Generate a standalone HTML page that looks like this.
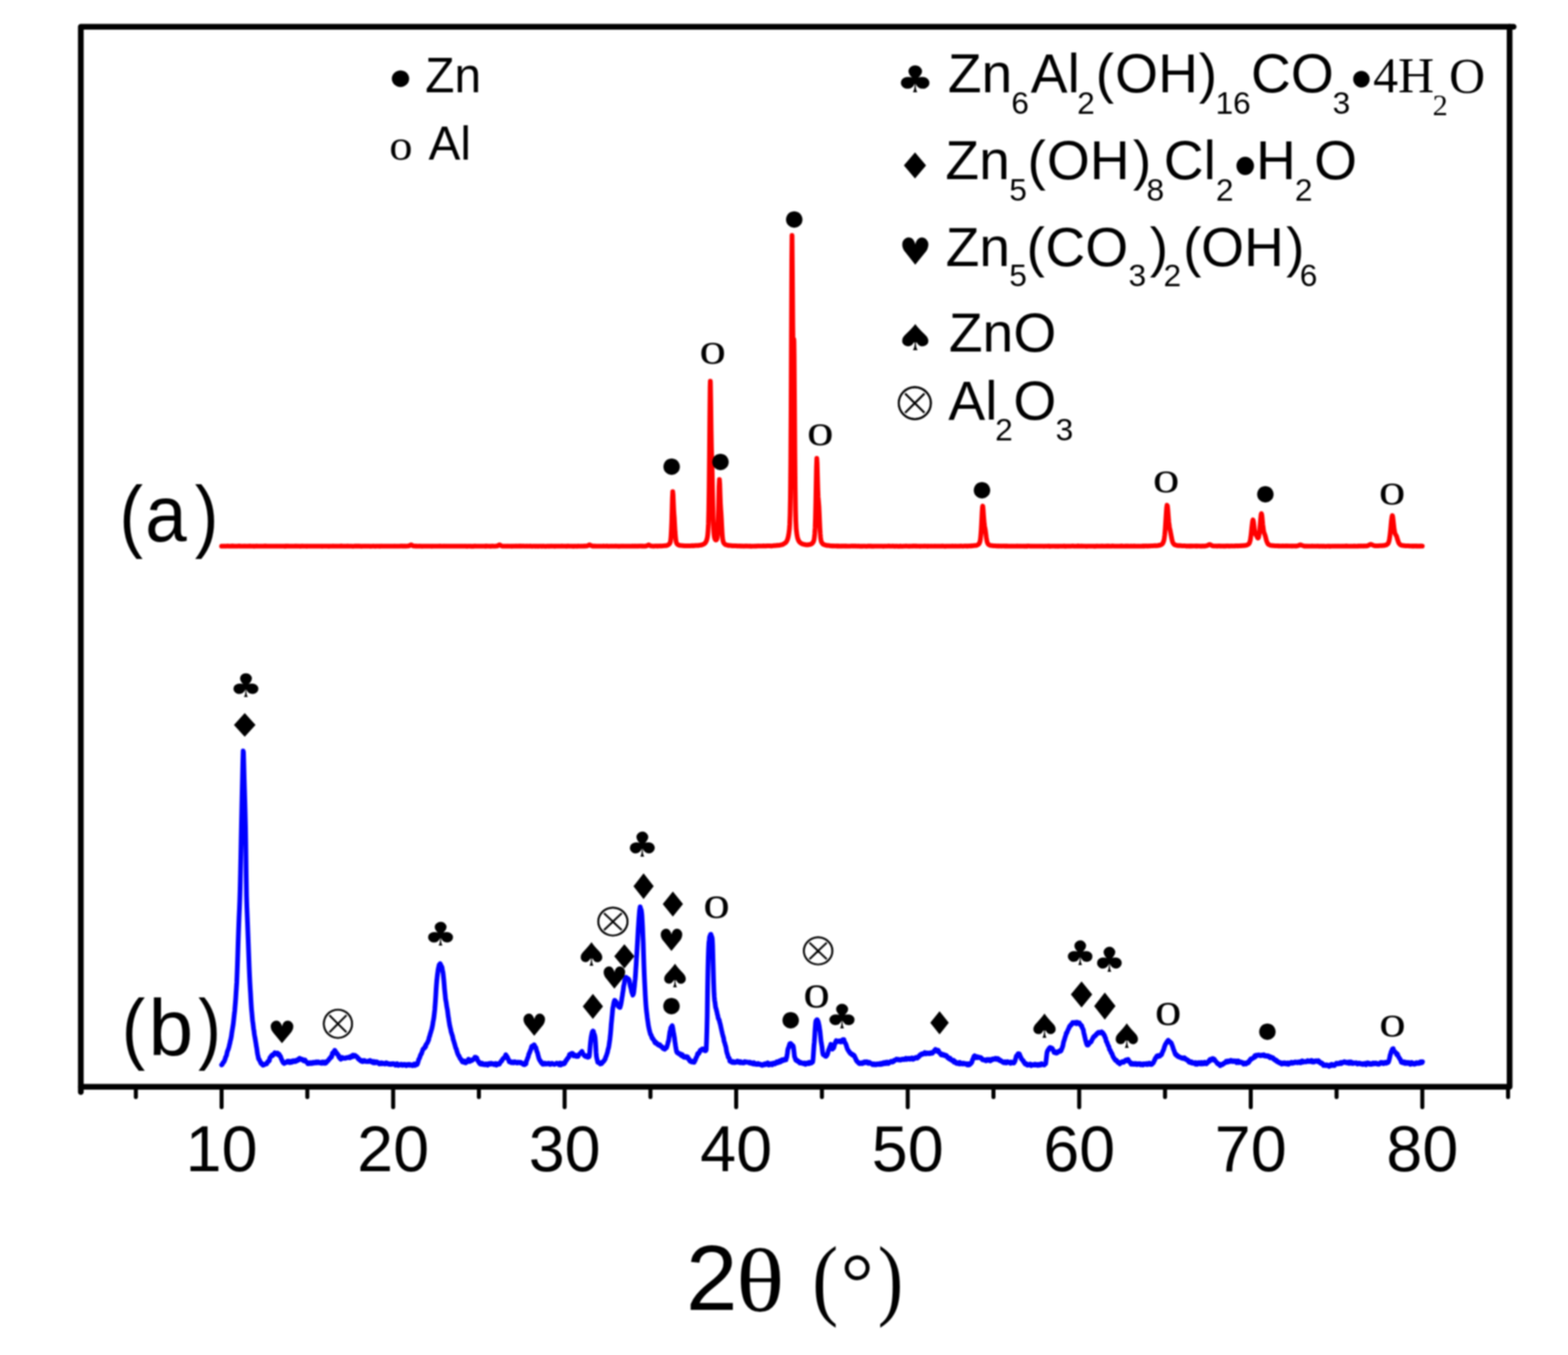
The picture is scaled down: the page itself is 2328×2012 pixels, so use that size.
<!DOCTYPE html><html><head><meta charset="utf-8"><title>XRD</title><style>html,body{margin:0;padding:0;background:#fff;}svg{display:block;filter:blur(1.3px);}</style></head><body><svg width="2328" height="2012" viewBox="0 0 2328 2012">
<path d="M120.0,1613.7 V39.8 H2241.3 V1613.7 Z" fill="none" stroke="#000" stroke-width="8.5" stroke-linejoin="round"/>
<path d="M2241.3,39.8 H2247.3 M120.0,1613.7 V1621.5" stroke="#000" stroke-width="8.5" stroke-linecap="round" fill="none"/>
<path d="M201.7,1613.7 V1629 M329.0,1613.7 V1644 M456.3,1613.7 V1629 M583.7,1613.7 V1644 M711.0,1613.7 V1629 M838.3,1613.7 V1644 M965.7,1613.7 V1629 M1093.0,1613.7 V1644 M1220.3,1613.7 V1629 M1347.7,1613.7 V1644 M1475.0,1613.7 V1629 M1602.3,1613.7 V1644 M1729.7,1613.7 V1629 M1857.0,1613.7 V1644 M1984.4,1613.7 V1629 M2111.7,1613.7 V1644 M2239.0,1613.7 V1629" stroke="#000" stroke-width="6" fill="none" stroke-linecap="round"/>
<text x="329.0" y="1739" text-anchor="middle" style="font-family:'Liberation Sans', sans-serif;font-size:96px">10</text>
<text x="583.7" y="1739" text-anchor="middle" style="font-family:'Liberation Sans', sans-serif;font-size:96px">20</text>
<text x="838.3" y="1739" text-anchor="middle" style="font-family:'Liberation Sans', sans-serif;font-size:96px">30</text>
<text x="1093.0" y="1739" text-anchor="middle" style="font-family:'Liberation Sans', sans-serif;font-size:96px">40</text>
<text x="1347.7" y="1739" text-anchor="middle" style="font-family:'Liberation Sans', sans-serif;font-size:96px">50</text>
<text x="1602.3" y="1739" text-anchor="middle" style="font-family:'Liberation Sans', sans-serif;font-size:96px">60</text>
<text x="1857.0" y="1739" text-anchor="middle" style="font-family:'Liberation Sans', sans-serif;font-size:96px">70</text>
<text x="2111.7" y="1739" text-anchor="middle" style="font-family:'Liberation Sans', sans-serif;font-size:96px">80</text>
<text x="1018.38" y="1945.00" style="font-family:'Liberation Sans', sans-serif;font-size:137.5px">2</text>
<text transform="translate(1092.91 1946.79) scale(1.1128 1)" style="font-family:'Liberation Serif', serif;font-size:133.99px" fill="#000">θ</text>
<text transform="translate(1205.94 1942.52) scale(0.8615 1)" style="font-family:'Liberation Serif', serif;font-size:133.78px" fill="#000">(</text>
<text transform="translate(1248.25 1945.29) scale(1.0109 1)" style="font-family:'Liberation Serif', serif;font-size:121.03px" fill="#000">°</text>
<text transform="translate(1303.25 1942.52) scale(0.8470 1)" style="font-family:'Liberation Serif', serif;font-size:133.78px" fill="#000">)</text>
<text transform="translate(177.17 805.06) scale(0.8912 1)" style="font-family:'Liberation Sans', sans-serif;font-size:118.07px" fill="#000">(</text>
<text transform="translate(215.59 804.15) scale(0.9411 1)" style="font-family:'Liberation Sans', sans-serif;font-size:117.92px" fill="#000">a</text>
<text transform="translate(289.18 805.06) scale(0.8944 1)" style="font-family:'Liberation Sans', sans-serif;font-size:118.07px" fill="#000">)</text>
<text transform="translate(180.82 1566.02) scale(0.8873 1)" style="font-family:'Liberation Sans', sans-serif;font-size:117.75px" fill="#000">(</text>
<text transform="translate(220.62 1567.14) scale(0.9992 1)" style="font-family:'Liberation Sans', sans-serif;font-size:119.29px" fill="#000">b</text>
<text transform="translate(294.21 1566.02) scale(0.8616 1)" style="font-family:'Liberation Sans', sans-serif;font-size:117.75px" fill="#000">)</text>
<polyline points="329.0,811.0 329.5,811.1 330.0,811.0 330.5,811.1 331.0,811.0 331.5,811.0 332.1,811.1 332.6,811.1 333.1,811.0 333.6,811.1 334.1,811.1 334.6,811.1 335.1,811.1 335.6,811.0 336.1,811.0 336.6,810.9 337.1,810.9 337.7,810.8 338.2,810.8 338.7,810.9 339.2,810.9 339.7,810.9 340.2,811.0 340.7,810.9 341.2,810.9 341.7,811.0 342.2,811.1 342.8,811.0 343.3,810.9 343.8,810.8 344.3,810.9 344.8,810.8 345.3,810.8 345.8,811.0 346.3,810.8 346.8,811.0 347.3,811.0 347.8,811.0 348.4,811.0 348.9,811.1 349.4,811.1 349.9,811.0 350.4,811.0 350.9,810.9 351.4,810.9 351.9,810.9 352.4,810.9 352.9,811.0 353.4,810.9 354.0,810.8 354.5,810.8 355.0,810.8 355.5,811.0 356.0,810.8 356.5,810.9 357.0,810.9 357.5,811.1 358.0,810.9 358.5,811.0 359.1,811.0 359.6,811.0 360.1,810.9 360.6,811.0 361.1,810.9 361.6,811.0 362.1,811.0 362.6,811.1 363.1,810.9 363.6,811.1 364.1,811.1 364.7,811.0 365.2,811.0 365.7,811.0 366.2,811.1 366.7,811.1 367.2,811.0 367.7,811.0 368.2,811.0 368.7,811.0 369.2,810.9 369.7,811.1 370.3,810.9 370.8,810.7 371.3,810.8 371.8,810.9 372.3,811.0 372.8,811.0 373.3,811.0 373.8,811.0 374.3,811.1 374.8,811.0 375.3,811.0 375.9,811.1 376.4,811.1 376.9,811.0 377.4,811.2 377.9,811.1 378.4,811.0 378.9,810.9 379.4,811.0 379.9,810.9 380.4,810.9 381.0,810.8 381.5,810.9 382.0,811.0 382.5,811.0 383.0,810.9 383.5,811.0 384.0,811.0 384.5,811.1 385.0,811.1 385.5,811.1 386.0,811.0 386.6,811.0 387.1,810.9 387.6,811.0 388.1,811.1 388.6,811.1 389.1,811.0 389.6,811.0 390.1,810.9 390.6,810.9 391.1,810.9 391.6,810.9 392.2,810.9 392.7,810.8 393.2,810.9 393.7,811.0 394.2,810.9 394.7,810.8 395.2,810.9 395.7,811.0 396.2,811.0 396.7,810.9 397.3,810.9 397.8,811.0 398.3,810.9 398.8,811.0 399.3,811.0 399.8,811.1 400.3,811.0 400.8,811.0 401.3,810.9 401.8,810.9 402.3,810.9 402.9,811.0 403.4,811.0 403.9,811.0 404.4,811.0 404.9,811.1 405.4,811.0 405.9,811.0 406.4,811.0 406.9,811.0 407.4,811.1 407.9,811.0 408.5,811.0 409.0,811.0 409.5,810.9 410.0,811.1 410.5,811.1 411.0,811.0 411.5,811.0 412.0,811.0 412.5,811.0 413.0,811.0 413.6,811.0 414.1,810.9 414.6,811.0 415.1,811.0 415.6,811.1 416.1,810.9 416.6,811.0 417.1,810.9 417.6,811.0 418.1,811.1 418.6,811.0 419.2,811.0 419.7,810.9 420.2,811.0 420.7,810.9 421.2,811.0 421.7,811.0 422.2,811.0 422.7,811.2 423.2,811.1 423.7,811.2 424.2,810.9 424.8,810.8 425.3,811.0 425.8,811.0 426.3,811.0 426.8,811.0 427.3,810.8 427.8,810.9 428.3,810.9 428.8,810.9 429.3,811.0 429.8,811.0 430.4,811.0 430.9,811.0 431.4,810.9 431.9,811.0 432.4,811.0 432.9,811.1 433.4,811.0 433.9,811.1 434.4,811.0 434.9,811.1 435.5,811.0 436.0,811.1 436.5,811.1 437.0,811.1 437.5,811.1 438.0,811.0 438.5,810.9 439.0,810.8 439.5,811.0 440.0,810.9 440.5,810.9 441.1,811.0 441.6,811.1 442.1,810.9 442.6,811.0 443.1,811.0 443.6,811.0 444.1,810.9 444.6,810.9 445.1,811.0 445.6,811.1 446.1,811.2 446.7,811.0 447.2,811.0 447.7,811.0 448.2,810.9 448.7,810.8 449.2,811.0 449.7,811.0 450.2,811.0 450.7,811.1 451.2,811.0 451.8,811.0 452.3,811.0 452.8,811.0 453.3,811.0 453.8,811.0 454.3,811.0 454.8,811.0 455.3,811.2 455.8,811.1 456.3,811.1 456.8,811.1 457.4,811.0 457.9,811.1 458.4,811.0 458.9,811.1 459.4,811.0 459.9,810.9 460.4,811.0 460.9,811.1 461.4,811.1 461.9,811.1 462.4,811.0 463.0,810.9 463.5,811.0 464.0,811.0 464.5,810.9 465.0,811.0 465.5,811.0 466.0,810.9 466.5,811.0 467.0,810.9 467.5,810.9 468.0,811.0 468.6,810.9 469.1,810.9 469.6,810.9 470.1,811.0 470.6,810.9 471.1,811.0 471.6,810.9 472.1,810.9 472.6,811.0 473.1,811.1 473.7,810.9 474.2,811.0 474.7,811.1 475.2,811.0 475.7,811.1 476.2,811.0 476.7,811.0 477.2,811.1 477.7,811.1 478.2,811.2 478.7,811.0 479.3,810.9 479.8,811.0 480.3,810.9 480.8,810.9 481.3,810.9 481.8,811.0 482.3,811.1 482.8,811.1 483.3,811.0 483.8,811.0 484.3,811.0 484.9,811.0 485.4,811.0 485.9,811.1 486.4,811.0 486.9,811.1 487.4,811.1 487.9,811.2 488.4,811.2 488.9,811.0 489.4,810.9 490.0,811.0 490.5,811.0 491.0,811.0 491.5,811.0 492.0,811.0 492.5,810.9 493.0,810.9 493.5,810.9 494.0,811.0 494.5,810.8 495.0,811.0 495.6,811.0 496.1,810.9 496.6,810.9 497.1,810.9 497.6,811.0 498.1,811.0 498.6,811.1 499.1,811.1 499.6,810.9 500.1,810.9 500.6,811.0 501.2,811.0 501.7,811.0 502.2,811.1 502.7,811.1 503.2,811.1 503.7,811.1 504.2,811.0 504.7,811.0 505.2,810.9 505.7,810.8 506.3,810.9 506.8,810.9 507.3,810.8 507.8,810.9 508.3,811.0 508.8,811.0 509.3,811.1 509.8,811.1 510.3,811.1 510.8,811.0 511.3,810.9 511.9,811.0 512.4,811.0 512.9,811.1 513.4,811.1 513.9,811.1 514.4,811.0 514.9,811.1 515.4,811.0 515.9,810.8 516.4,810.9 516.9,811.1 517.5,810.9 518.0,811.0 518.5,811.0 519.0,810.9 519.5,811.0 520.0,811.0 520.5,810.9 521.0,811.0 521.5,811.0 522.0,811.1 522.5,811.0 523.1,811.1 523.6,811.2 524.1,811.3 524.6,811.0 525.1,811.0 525.6,810.9 526.1,811.0 526.6,811.0 527.1,810.9 527.6,810.8 528.2,810.9 528.7,811.0 529.2,810.9 529.7,811.0 530.2,810.8 530.7,810.8 531.2,810.9 531.7,811.0 532.2,811.1 532.7,811.0 533.2,810.8 533.8,810.9 534.3,810.9 534.8,811.0 535.3,811.0 535.8,811.1 536.3,811.2 536.8,811.2 537.3,811.0 537.8,811.0 538.3,811.1 538.8,811.0 539.4,811.1 539.9,811.0 540.4,811.0 540.9,811.1 541.4,811.1 541.9,811.1 542.4,811.1 542.9,810.9 543.4,810.9 543.9,811.0 544.5,811.0 545.0,810.9 545.5,811.0 546.0,811.0 546.5,811.1 547.0,811.1 547.5,811.0 548.0,811.0 548.5,811.0 549.0,811.0 549.5,811.1 550.1,811.2 550.6,811.2 551.1,811.1 551.6,811.0 552.1,811.1 552.6,811.0 553.1,811.0 553.6,810.9 554.1,810.9 554.6,811.1 555.1,811.0 555.7,810.9 556.2,810.9 556.7,811.1 557.2,811.2 557.7,811.1 558.2,811.0 558.7,811.0 559.2,810.9 559.7,811.0 560.2,811.0 560.7,810.9 561.3,810.9 561.8,810.9 562.3,810.9 562.8,810.9 563.3,811.0 563.8,811.2 564.3,811.1 564.8,811.0 565.3,811.0 565.8,811.0 566.4,810.9 566.9,811.1 567.4,811.0 567.9,810.9 568.4,810.9 568.9,810.9 569.4,810.9 569.9,811.0 570.4,811.1 570.9,811.1 571.4,811.1 572.0,810.9 572.5,811.0 573.0,810.9 573.5,810.9 574.0,811.0 574.5,811.0 575.0,811.0 575.5,810.9 576.0,811.0 576.5,811.0 577.0,810.9 577.6,810.9 578.1,811.0 578.6,810.9 579.1,810.9 579.6,810.9 580.1,811.0 580.6,811.1 581.1,811.1 581.6,811.1 582.1,811.1 582.7,811.0 583.2,810.9 583.7,811.0 584.2,811.0 584.7,810.9 585.2,811.0 585.7,811.1 586.2,810.9 586.7,810.9 587.2,810.9 587.7,810.9 588.3,811.0 588.8,810.9 589.3,810.9 589.8,811.0 590.3,811.0 590.8,811.0 591.3,811.0 591.8,811.0 592.3,810.9 592.8,811.0 593.3,811.0 593.9,810.9 594.4,810.9 594.9,810.8 595.4,810.7 595.9,810.8 596.4,810.8 596.9,811.0 597.4,810.9 597.9,810.8 598.4,810.8 599.0,811.0 599.5,811.0 600.0,810.9 600.5,810.9 601.0,810.8 601.5,810.9 602.0,810.9 602.5,811.0 603.0,811.1 603.5,811.0 604.0,810.9 604.6,810.8 605.1,810.7 605.6,810.7 606.1,810.7 606.6,810.7 607.1,810.6 607.6,810.3 608.1,810.2 608.6,810.0 609.1,809.6 609.6,809.3 610.2,808.9 610.4,808.9 610.7,808.9 611.2,809.3 611.7,809.6 612.2,809.9 612.7,810.3 613.2,810.4 613.7,810.7 614.2,810.7 614.7,810.8 615.2,810.8 615.8,810.9 616.3,810.7 616.8,810.9 617.3,810.9 617.8,810.9 618.3,810.8 618.8,810.9 619.3,811.0 619.8,811.0 620.3,811.0 620.9,811.0 621.4,811.1 621.9,811.0 622.4,810.9 622.9,810.8 623.4,811.0 623.9,810.9 624.4,811.0 624.9,811.0 625.4,810.9 625.9,811.0 626.5,811.2 627.0,811.1 627.5,810.9 628.0,810.9 628.5,811.0 629.0,811.0 629.5,810.9 630.0,811.0 630.5,811.0 631.0,811.0 631.5,811.0 632.1,810.9 632.6,811.0 633.1,811.0 633.6,811.0 634.1,811.0 634.6,811.0 635.1,811.0 635.6,811.0 636.1,811.1 636.6,811.1 637.2,811.1 637.7,811.0 638.2,810.9 638.7,811.0 639.2,811.0 639.7,811.0 640.2,810.9 640.7,811.0 641.2,811.2 641.7,811.1 642.2,811.1 642.8,811.1 643.3,811.0 643.8,811.0 644.3,810.9 644.8,810.9 645.3,811.0 645.8,811.0 646.3,811.0 646.8,810.9 647.3,811.0 647.8,810.9 648.4,811.0 648.9,811.0 649.4,811.0 649.9,811.1 650.4,811.1 650.9,810.9 651.4,810.9 651.9,811.0 652.4,810.9 652.9,810.8 653.4,810.9 654.0,810.9 654.5,811.0 655.0,811.0 655.5,811.0 656.0,811.0 656.5,811.1 657.0,811.1 657.5,811.1 658.0,811.0 658.5,811.1 659.1,811.0 659.6,811.1 660.1,810.9 660.6,811.0 661.1,811.0 661.6,810.9 662.1,811.1 662.6,811.1 663.1,811.0 663.6,811.0 664.1,811.1 664.7,811.1 665.2,811.1 665.7,811.0 666.2,811.1 666.7,811.1 667.2,811.0 667.7,811.0 668.2,810.9 668.7,811.0 669.2,810.9 669.7,811.0 670.3,811.0 670.8,810.9 671.3,811.0 671.8,811.0 672.3,810.9 672.8,811.0 673.3,811.0 673.8,811.0 674.3,810.9 674.8,810.9 675.4,810.9 675.9,810.9 676.4,811.0 676.9,811.0 677.4,811.0 677.9,810.9 678.4,811.0 678.9,811.0 679.4,810.9 679.9,811.0 680.4,811.1 681.0,811.0 681.5,810.9 682.0,811.0 682.5,810.9 683.0,811.1 683.5,811.0 684.0,810.9 684.5,811.0 685.0,811.1 685.5,811.1 686.0,811.1 686.6,811.0 687.1,811.0 687.6,811.0 688.1,811.1 688.6,811.1 689.1,811.1 689.6,811.0 690.1,811.1 690.6,811.1 691.1,811.1 691.7,811.0 692.2,811.0 692.7,811.2 693.2,811.1 693.7,811.2 694.2,811.0 694.7,811.0 695.2,810.9 695.7,810.9 696.2,810.9 696.7,810.9 697.3,811.0 697.8,811.0 698.3,811.0 698.8,811.0 699.3,811.2 699.8,811.1 700.3,811.1 700.8,811.2 701.3,811.2 701.8,811.1 702.3,811.1 702.9,811.2 703.4,811.0 703.9,810.9 704.4,811.0 704.9,810.8 705.4,810.8 705.9,811.0 706.4,811.0 706.9,811.0 707.4,811.1 707.9,810.9 708.5,811.0 709.0,810.9 709.5,810.9 710.0,810.9 710.5,811.0 711.0,810.9 711.5,810.9 712.0,811.0 712.5,811.1 713.0,811.1 713.6,811.0 714.1,810.9 714.6,810.9 715.1,810.9 715.6,810.9 716.1,811.0 716.6,811.1 717.1,811.0 717.6,811.0 718.1,811.0 718.6,811.0 719.2,811.0 719.7,811.1 720.2,811.0 720.7,811.2 721.2,810.9 721.7,810.8 722.2,810.8 722.7,810.8 723.2,810.9 723.7,811.1 724.2,811.0 724.8,811.1 725.3,811.0 725.8,811.0 726.3,810.9 726.8,811.1 727.3,811.1 727.8,811.0 728.3,811.2 728.8,811.1 729.3,811.1 729.9,811.0 730.4,810.9 730.9,810.8 731.4,810.9 731.9,811.0 732.4,811.0 732.9,811.0 733.4,811.0 733.9,810.9 734.4,811.0 734.9,811.0 735.5,810.9 736.0,810.9 736.5,810.9 737.0,810.8 737.5,810.8 738.0,810.8 738.5,810.7 739.0,810.4 739.5,809.9 740.0,809.8 740.5,809.4 741.1,809.1 741.6,809.0 742.1,809.1 742.6,809.5 743.1,809.7 743.6,810.0 744.1,810.2 744.6,810.6 745.1,810.7 745.6,810.9 746.1,811.0 746.7,810.9 747.2,810.9 747.7,811.0 748.2,810.9 748.7,810.9 749.2,811.0 749.7,811.1 750.2,811.0 750.7,811.0 751.2,811.0 751.8,811.0 752.3,811.0 752.8,810.9 753.3,811.1 753.8,811.0 754.3,811.0 754.8,811.0 755.3,811.0 755.8,811.0 756.3,810.9 756.8,811.0 757.4,811.1 757.9,811.1 758.4,811.1 758.9,811.1 759.4,811.0 759.9,811.2 760.4,811.0 760.9,811.0 761.4,811.1 761.9,811.1 762.4,810.9 763.0,810.9 763.5,811.1 764.0,811.0 764.5,811.0 765.0,811.0 765.5,811.0 766.0,810.9 766.5,810.8 767.0,810.9 767.5,810.9 768.1,810.9 768.6,811.0 769.1,811.0 769.6,810.9 770.1,810.8 770.6,811.0 771.1,810.9 771.6,810.9 772.1,810.8 772.6,810.9 773.1,810.9 773.7,810.8 774.2,811.0 774.7,811.0 775.2,811.0 775.7,810.9 776.2,810.7 776.7,810.8 777.2,810.9 777.7,810.9 778.2,811.0 778.7,811.0 779.3,810.9 779.8,811.0 780.3,811.0 780.8,811.0 781.3,811.1 781.8,810.9 782.3,811.0 782.8,811.1 783.3,810.9 783.8,810.9 784.3,810.9 784.9,810.9 785.4,810.9 785.9,810.9 786.4,810.9 786.9,810.9 787.4,810.8 787.9,811.0 788.4,811.1 788.9,811.0 789.4,811.1 790.0,811.2 790.5,811.0 791.0,811.0 791.5,810.9 792.0,811.0 792.5,811.0 793.0,810.9 793.5,811.0 794.0,811.0 794.5,811.1 795.0,811.2 795.6,811.0 796.1,811.0 796.6,811.1 797.1,811.0 797.6,811.1 798.1,811.0 798.6,811.2 799.1,811.2 799.6,811.1 800.1,811.1 800.6,811.1 801.2,810.9 801.7,810.9 802.2,811.0 802.7,810.9 803.2,811.0 803.7,811.0 804.2,810.9 804.7,811.2 805.2,811.1 805.7,811.1 806.3,811.0 806.8,811.0 807.3,811.0 807.8,811.0 808.3,811.0 808.8,811.2 809.3,811.2 809.8,811.2 810.3,811.2 810.8,811.3 811.3,811.1 811.9,811.0 812.4,811.0 812.9,811.0 813.4,811.0 813.9,811.0 814.4,811.0 814.9,811.2 815.4,811.1 815.9,811.0 816.4,811.1 816.9,811.0 817.5,811.0 818.0,811.0 818.5,810.8 819.0,811.1 819.5,811.0 820.0,811.1 820.5,811.1 821.0,811.1 821.5,810.9 822.0,811.1 822.6,811.1 823.1,811.1 823.6,811.3 824.1,811.0 824.6,811.1 825.1,811.0 825.6,810.9 826.1,811.1 826.6,810.9 827.1,811.0 827.6,811.0 828.2,811.0 828.7,810.9 829.2,811.1 829.7,811.1 830.2,810.9 830.7,810.9 831.2,811.0 831.7,810.9 832.2,811.0 832.7,811.0 833.2,811.0 833.8,810.8 834.3,810.8 834.8,810.9 835.3,810.9 835.8,811.1 836.3,811.0 836.8,811.0 837.3,811.1 837.8,811.0 838.3,811.0 838.8,811.1 839.4,811.0 839.9,811.0 840.4,811.0 840.9,811.2 841.4,811.1 841.9,811.1 842.4,810.8 842.9,810.9 843.4,810.8 843.9,810.9 844.5,810.9 845.0,810.9 845.5,810.9 846.0,811.0 846.5,811.1 847.0,811.0 847.5,811.1 848.0,811.0 848.5,811.0 849.0,811.0 849.5,811.1 850.1,811.2 850.6,811.1 851.1,811.1 851.6,810.9 852.1,810.9 852.6,811.2 853.1,811.1 853.6,811.1 854.1,810.9 854.6,810.9 855.1,810.9 855.7,811.0 856.2,811.0 856.7,811.2 857.2,811.0 857.7,811.0 858.2,810.8 858.7,810.9 859.2,811.0 859.7,811.0 860.2,810.9 860.8,811.0 861.3,811.1 861.8,811.1 862.3,811.1 862.8,810.9 863.3,811.1 863.8,811.1 864.3,810.9 864.8,811.1 865.3,811.0 865.8,811.0 866.4,810.8 866.9,810.8 867.4,810.7 867.9,810.9 868.4,810.9 868.9,810.8 869.4,810.8 869.9,810.9 870.4,810.8 870.9,810.8 871.4,810.7 872.0,810.5 872.5,810.3 873.0,810.1 873.5,809.9 874.0,809.6 874.5,809.2 875.0,809.0 875.3,809.0 875.5,809.1 876.0,809.3 876.5,809.6 877.0,809.8 877.6,810.1 878.1,810.3 878.6,810.5 879.1,810.7 879.6,810.7 880.1,810.9 880.6,810.8 881.1,810.9 881.6,810.9 882.1,811.0 882.7,810.9 883.2,810.8 883.7,810.9 884.2,810.9 884.7,811.0 885.2,811.0 885.7,810.9 886.2,811.0 886.7,811.0 887.2,811.0 887.7,811.0 888.3,811.0 888.8,811.0 889.3,811.0 889.8,811.0 890.3,810.9 890.8,811.0 891.3,810.9 891.8,810.9 892.3,810.9 892.8,811.0 893.3,811.1 893.9,811.0 894.4,811.1 894.9,811.1 895.4,811.0 895.9,810.8 896.4,810.9 896.9,810.9 897.4,810.9 897.9,810.9 898.4,811.1 899.0,810.9 899.5,810.9 900.0,811.0 900.5,810.9 901.0,810.8 901.5,810.9 902.0,811.0 902.5,811.1 903.0,811.1 903.5,811.2 904.0,811.1 904.6,811.0 905.1,811.0 905.6,811.0 906.1,811.0 906.6,810.9 907.1,811.0 907.6,810.9 908.1,810.9 908.6,811.1 909.1,811.0 909.6,811.0 910.2,811.0 910.7,810.9 911.2,811.1 911.7,811.1 912.2,811.1 912.7,811.0 913.2,811.0 913.7,811.0 914.2,810.8 914.7,811.0 915.3,810.9 915.8,811.0 916.3,811.0 916.8,810.9 917.3,811.0 917.8,811.1 918.3,811.2 918.8,811.1 919.3,811.2 919.8,811.1 920.3,811.1 920.9,811.1 921.4,811.0 921.9,811.0 922.4,811.1 922.9,811.1 923.4,811.1 923.9,810.9 924.4,811.1 924.9,811.0 925.4,811.0 925.9,810.9 926.5,811.0 927.0,811.0 927.5,811.1 928.0,811.0 928.5,811.1 929.0,811.0 929.5,811.1 930.0,811.0 930.5,811.1 931.0,811.0 931.5,811.0 932.1,811.0 932.6,810.9 933.1,810.9 933.6,810.9 934.1,811.0 934.6,811.1 935.1,811.0 935.6,811.0 936.1,810.9 936.6,810.9 937.2,810.9 937.7,811.0 938.2,811.0 938.7,810.9 939.2,810.8 939.7,810.9 940.2,810.9 940.7,811.1 941.2,811.0 941.7,810.9 942.2,811.0 942.8,810.8 943.3,810.7 943.8,811.1 944.3,811.0 944.8,811.0 945.3,810.9 945.8,810.9 946.3,810.9 946.8,810.8 947.3,811.0 947.8,811.0 948.4,811.0 948.9,810.9 949.4,810.8 949.9,810.8 950.4,810.8 950.9,810.9 951.4,810.8 951.9,810.8 952.4,810.9 952.9,810.9 953.5,810.9 954.0,810.8 954.5,810.8 955.0,811.0 955.5,811.0 956.0,810.9 956.5,811.0 957.0,810.9 957.5,810.9 958.0,810.8 958.5,810.9 959.1,810.8 959.6,810.7 960.1,810.5 960.6,810.2 961.1,810.0 961.6,809.8 962.1,809.6 962.6,809.2 963.1,809.1 963.6,809.3 964.1,809.6 964.7,809.8 965.2,810.2 965.7,810.4 966.2,810.6 966.7,810.7 967.2,810.8 967.7,810.8 968.2,810.8 968.7,810.9 969.2,810.9 969.7,810.9 970.3,810.9 970.8,810.9 971.3,810.9 971.8,810.7 972.3,810.7 972.8,810.8 973.3,810.8 973.8,810.8 974.3,810.8 974.8,810.8 975.4,810.9 975.9,810.9 976.4,810.8 976.9,810.9 977.4,810.8 977.9,810.7 978.4,810.8 978.9,810.8 979.4,810.7 979.9,810.6 980.4,810.6 981.0,810.7 981.5,810.7 982.0,810.8 982.5,810.7 983.0,810.6 983.5,810.4 984.0,810.6 984.5,810.6 985.0,810.5 985.5,810.4 986.0,810.2 986.6,810.3 987.1,810.2 987.6,810.3 988.1,810.3 988.6,810.3 989.1,810.1 989.6,810.1 990.1,809.8 990.6,809.8 991.1,809.6 991.7,809.2 992.2,809.0 992.7,808.6 993.2,808.3 993.7,807.8 994.2,807.1 994.7,806.2 995.2,804.8 995.7,802.1 996.2,797.4 996.7,789.0 997.3,775.6 997.8,758.0 998.3,739.7 998.8,730.1 999.3,734.5 999.8,746.2 1000.3,757.1 1000.8,764.9 1001.2,769.5 1001.3,772.1 1001.8,781.0 1002.3,789.6 1002.9,796.7 1003.4,801.7 1003.9,804.6 1004.4,806.2 1004.9,807.2 1005.4,807.9 1005.9,808.3 1006.4,808.7 1006.9,809.0 1007.4,809.2 1008.0,809.5 1008.5,809.7 1009.0,809.8 1009.5,809.8 1010.0,809.9 1010.5,810.0 1011.0,810.1 1011.5,810.0 1012.0,809.9 1012.5,810.1 1013.0,810.2 1013.6,810.2 1014.1,810.3 1014.6,810.3 1015.1,810.3 1015.6,810.5 1016.1,810.5 1016.6,810.5 1017.1,810.4 1017.6,810.4 1018.1,810.5 1018.6,810.5 1019.2,810.5 1019.7,810.4 1020.2,810.5 1020.7,810.4 1021.2,810.4 1021.7,810.4 1022.2,810.4 1022.7,810.5 1023.2,810.5 1023.7,810.4 1024.2,810.4 1024.8,810.5 1025.3,810.5 1025.8,810.5 1026.3,810.4 1026.8,810.3 1027.3,810.3 1027.8,810.3 1028.3,810.4 1028.8,810.4 1029.3,810.3 1029.9,810.4 1030.4,810.3 1030.9,810.2 1031.4,810.3 1031.9,810.1 1032.4,810.1 1032.9,810.0 1033.4,810.0 1033.9,810.0 1034.4,810.0 1034.9,810.1 1035.5,810.1 1036.0,809.9 1036.5,810.0 1037.0,810.0 1037.5,809.8 1038.0,809.7 1038.5,809.6 1039.0,809.6 1039.5,809.6 1040.0,809.5 1040.5,809.2 1041.1,809.4 1041.6,809.3 1042.1,809.1 1042.6,808.8 1043.1,808.7 1043.6,808.5 1044.1,808.2 1044.6,808.1 1045.1,807.7 1045.6,807.5 1046.2,807.0 1046.7,806.6 1047.2,805.8 1047.7,805.3 1048.2,804.4 1048.7,803.3 1049.2,802.1 1049.7,800.3 1050.2,798.0 1050.7,794.5 1051.2,788.6 1051.8,777.9 1052.3,758.2 1052.8,725.3 1053.3,677.3 1053.8,620.6 1054.3,575.2 1054.6,565.9 1054.8,568.2 1055.3,598.4 1055.8,636.5 1056.3,664.0 1056.8,681.8 1057.1,690.2 1057.4,701.2 1057.9,726.4 1058.4,751.0 1058.9,770.5 1059.4,783.6 1059.9,791.6 1060.4,796.1 1060.9,798.6 1061.4,800.1 1061.9,801.1 1062.4,801.7 1063.0,801.9 1063.5,801.8 1064.0,801.2 1064.5,800.0 1065.0,797.2 1065.5,791.7 1066.0,781.7 1066.5,765.9 1067.0,744.6 1067.5,723.1 1068.1,712.1 1068.6,718.2 1069.1,733.5 1069.6,747.2 1070.1,755.8 1070.6,762.3 1070.6,762.6 1071.1,770.9 1071.6,781.1 1072.1,790.3 1072.6,797.0 1073.1,801.4 1073.7,803.9 1074.2,805.5 1074.7,806.5 1075.2,807.1 1075.7,807.6 1076.2,808.1 1076.7,808.5 1077.2,808.7 1077.7,808.9 1078.2,809.0 1078.7,809.2 1079.3,809.3 1079.8,809.4 1080.3,809.6 1080.8,809.7 1081.3,809.9 1081.8,809.8 1082.3,809.8 1082.8,810.0 1083.3,810.1 1083.8,810.1 1084.4,810.1 1084.9,810.1 1085.4,810.2 1085.9,810.3 1086.4,810.4 1086.9,810.3 1087.4,810.2 1087.9,810.4 1088.4,810.4 1088.9,810.5 1089.4,810.4 1090.0,810.4 1090.5,810.2 1091.0,810.5 1091.5,810.6 1092.0,810.6 1092.5,810.6 1093.0,810.4 1093.5,810.4 1094.0,810.5 1094.5,810.7 1095.0,810.7 1095.6,810.7 1096.1,810.7 1096.6,810.7 1097.1,810.7 1097.6,810.6 1098.1,810.6 1098.6,810.8 1099.1,810.8 1099.6,810.7 1100.1,810.9 1100.7,810.9 1101.2,810.8 1101.7,810.8 1102.2,810.9 1102.7,810.8 1103.2,810.9 1103.7,810.9 1104.2,810.9 1104.7,810.9 1105.2,810.9 1105.7,810.8 1106.3,810.9 1106.8,810.8 1107.3,810.8 1107.8,810.9 1108.3,810.7 1108.8,810.8 1109.3,810.7 1109.8,810.8 1110.3,810.8 1110.8,811.0 1111.3,811.0 1111.9,810.9 1112.4,810.9 1112.9,810.8 1113.4,810.8 1113.9,811.0 1114.4,811.1 1114.9,811.2 1115.4,811.2 1115.9,811.0 1116.4,810.9 1116.9,810.9 1117.5,810.9 1118.0,810.9 1118.5,811.0 1119.0,810.9 1119.5,810.9 1120.0,810.9 1120.5,810.9 1121.0,811.0 1121.5,810.8 1122.0,810.9 1122.6,811.0 1123.1,811.0 1123.6,810.8 1124.1,810.8 1124.6,810.7 1125.1,810.6 1125.6,810.7 1126.1,810.8 1126.6,810.7 1127.1,810.8 1127.6,810.8 1128.2,810.7 1128.7,810.8 1129.2,810.8 1129.7,810.8 1130.2,810.8 1130.7,810.7 1131.2,810.7 1131.7,810.7 1132.2,810.7 1132.7,810.6 1133.2,810.7 1133.8,810.5 1134.3,810.7 1134.8,810.6 1135.3,810.7 1135.8,810.7 1136.3,810.8 1136.8,810.7 1137.3,810.7 1137.8,810.5 1138.3,810.5 1138.9,810.5 1139.4,810.6 1139.9,810.6 1140.4,810.6 1140.9,810.5 1141.4,810.5 1141.9,810.4 1142.4,810.5 1142.9,810.4 1143.4,810.4 1143.9,810.5 1144.5,810.7 1145.0,810.7 1145.5,810.7 1146.0,810.6 1146.5,810.6 1147.0,810.5 1147.5,810.4 1148.0,810.2 1148.5,810.2 1149.0,810.3 1149.5,810.1 1150.1,810.2 1150.6,810.2 1151.1,810.1 1151.6,810.1 1152.1,810.0 1152.6,809.9 1153.1,809.9 1153.6,809.7 1154.1,809.9 1154.6,809.8 1155.1,809.8 1155.7,809.7 1156.2,809.8 1156.7,809.7 1157.2,809.6 1157.7,809.5 1158.2,809.4 1158.7,809.2 1159.2,809.1 1159.7,809.0 1160.2,808.9 1160.8,808.9 1161.3,808.8 1161.8,808.5 1162.3,808.4 1162.8,808.1 1163.3,807.8 1163.8,807.5 1164.3,807.1 1164.8,806.8 1165.3,806.5 1165.8,806.2 1166.4,805.7 1166.9,805.3 1167.4,804.6 1167.9,803.8 1168.4,802.9 1168.9,801.8 1169.4,800.5 1169.9,798.8 1170.4,796.6 1170.9,794.0 1171.4,790.6 1172.0,785.8 1172.5,778.2 1173.0,764.5 1173.5,738.5 1174.0,689.3 1174.5,607.3 1175.0,495.8 1175.5,387.3 1175.9,349.6 1176.0,350.1 1176.5,405.8 1177.1,483.7 1177.6,525.1 1178.1,520.5 1178.6,504.1 1178.8,507.1 1179.1,528.5 1179.6,595.8 1180.1,667.7 1180.6,722.2 1181.1,756.1 1181.6,774.8 1182.1,784.6 1182.7,790.3 1183.2,794.1 1183.7,796.7 1184.2,798.9 1184.7,800.4 1185.2,801.9 1185.7,802.8 1186.2,803.7 1186.7,804.4 1187.2,805.0 1187.7,805.5 1188.3,805.9 1188.8,806.3 1189.3,806.7 1189.8,807.1 1190.3,807.3 1190.8,807.6 1191.3,807.7 1191.8,807.9 1192.3,808.1 1192.8,808.1 1193.3,808.3 1193.9,808.4 1194.4,808.5 1194.9,808.6 1195.4,808.7 1195.9,808.7 1196.4,808.7 1196.9,808.9 1197.4,808.9 1197.9,808.9 1198.4,809.1 1199.0,808.9 1199.5,808.9 1200.0,808.8 1200.5,808.9 1201.0,808.8 1201.5,808.6 1202.0,808.6 1202.5,808.5 1203.0,808.3 1203.5,808.2 1204.0,808.0 1204.6,807.7 1205.1,807.4 1205.6,807.2 1206.1,806.6 1206.6,806.0 1207.1,805.4 1207.6,804.4 1208.1,803.2 1208.6,801.4 1209.1,798.2 1209.6,792.8 1210.2,783.4 1210.7,768.2 1211.2,746.2 1211.7,719.1 1212.2,693.3 1212.7,680.6 1213.2,688.0 1213.7,707.0 1214.2,725.7 1214.7,738.0 1215.3,744.7 1215.7,749.9 1215.8,751.0 1216.3,761.0 1216.8,772.9 1217.3,783.8 1217.8,792.2 1218.3,798.1 1218.8,801.8 1219.3,803.8 1219.8,805.2 1220.3,806.1 1220.9,806.7 1221.4,807.4 1221.9,808.0 1222.4,808.3 1222.9,808.6 1223.4,808.6 1223.9,808.8 1224.4,808.9 1224.9,809.2 1225.4,809.3 1225.9,809.5 1226.5,809.6 1227.0,809.8 1227.5,809.9 1228.0,810.0 1228.5,810.1 1229.0,809.9 1229.5,810.1 1230.0,810.1 1230.5,810.0 1231.0,810.1 1231.6,810.2 1232.1,810.4 1232.6,810.5 1233.1,810.4 1233.6,810.5 1234.1,810.6 1234.6,810.5 1235.1,810.7 1235.6,810.6 1236.1,810.6 1236.6,810.7 1237.2,810.7 1237.7,810.5 1238.2,810.6 1238.7,810.7 1239.2,810.7 1239.7,810.7 1240.2,810.7 1240.7,810.7 1241.2,810.7 1241.7,810.6 1242.2,810.7 1242.8,810.9 1243.3,810.6 1243.8,810.7 1244.3,810.9 1244.8,810.8 1245.3,810.9 1245.8,810.7 1246.3,810.9 1246.8,811.0 1247.3,811.0 1247.8,810.7 1248.4,810.8 1248.9,810.7 1249.4,810.8 1249.9,811.0 1250.4,810.9 1250.9,811.0 1251.4,810.8 1251.9,810.8 1252.4,810.8 1252.9,810.9 1253.5,811.0 1254.0,810.9 1254.5,810.8 1255.0,810.9 1255.5,810.8 1256.0,810.9 1256.5,810.8 1257.0,810.9 1257.5,811.0 1258.0,811.0 1258.5,810.9 1259.1,810.9 1259.6,810.9 1260.1,811.0 1260.6,811.0 1261.1,810.9 1261.6,810.9 1262.1,811.0 1262.6,810.9 1263.1,810.9 1263.6,810.8 1264.1,810.8 1264.7,810.8 1265.2,810.8 1265.7,810.9 1266.2,810.9 1266.7,810.7 1267.2,810.8 1267.7,810.8 1268.2,810.8 1268.7,810.9 1269.2,810.9 1269.8,810.9 1270.3,810.8 1270.8,810.8 1271.3,810.9 1271.8,810.9 1272.3,810.9 1272.8,810.9 1273.3,810.9 1273.8,811.0 1274.3,810.9 1274.8,810.8 1275.4,811.0 1275.9,810.9 1276.4,811.0 1276.9,811.1 1277.4,811.2 1277.9,811.1 1278.4,810.9 1278.9,811.1 1279.4,811.1 1279.9,811.2 1280.4,811.1 1281.0,811.0 1281.5,811.0 1282.0,810.9 1282.5,811.0 1283.0,811.0 1283.5,810.9 1284.0,811.0 1284.5,810.9 1285.0,811.0 1285.5,811.0 1286.0,811.2 1286.6,811.2 1287.1,811.1 1287.6,811.1 1288.1,811.1 1288.6,811.0 1289.1,810.8 1289.6,810.9 1290.1,810.9 1290.6,810.9 1291.1,811.0 1291.7,810.8 1292.2,810.8 1292.7,810.9 1293.2,810.9 1293.7,811.0 1294.2,811.2 1294.7,811.1 1295.2,811.1 1295.7,811.1 1296.2,811.0 1296.7,811.2 1297.3,811.1 1297.8,811.1 1298.3,811.1 1298.8,811.0 1299.3,811.1 1299.8,811.0 1300.3,811.1 1300.8,811.0 1301.3,811.0 1301.8,811.1 1302.3,811.0 1302.9,811.0 1303.4,811.1 1303.9,811.1 1304.4,811.0 1304.9,811.0 1305.4,811.0 1305.9,811.0 1306.4,810.9 1306.9,811.0 1307.4,810.9 1308.0,811.1 1308.5,811.0 1309.0,811.0 1309.5,811.0 1310.0,811.1 1310.5,811.0 1311.0,811.2 1311.5,811.2 1312.0,811.2 1312.5,811.0 1313.0,810.9 1313.6,810.9 1314.1,811.0 1314.6,811.0 1315.1,811.1 1315.6,811.1 1316.1,811.1 1316.6,811.1 1317.1,810.9 1317.6,811.0 1318.1,810.9 1318.6,810.8 1319.2,810.8 1319.7,810.9 1320.2,810.8 1320.7,810.9 1321.2,811.0 1321.7,811.0 1322.2,811.0 1322.7,811.0 1323.2,811.0 1323.7,811.1 1324.3,811.0 1324.8,811.0 1325.3,810.8 1325.8,810.9 1326.3,811.1 1326.8,811.1 1327.3,811.0 1327.8,811.1 1328.3,811.2 1328.8,811.2 1329.3,811.0 1329.9,810.9 1330.4,811.0 1330.9,811.1 1331.4,811.1 1331.9,810.9 1332.4,811.0 1332.9,811.2 1333.4,811.2 1333.9,811.3 1334.4,811.2 1334.9,811.1 1335.5,811.2 1336.0,811.2 1336.5,810.9 1337.0,810.8 1337.5,810.9 1338.0,810.9 1338.5,811.1 1339.0,811.2 1339.5,811.2 1340.0,811.1 1340.5,811.0 1341.1,811.1 1341.6,811.0 1342.1,811.1 1342.6,811.1 1343.1,811.1 1343.6,811.1 1344.1,811.0 1344.6,810.8 1345.1,810.8 1345.6,810.8 1346.2,810.9 1346.7,810.9 1347.2,810.9 1347.7,811.0 1348.2,811.0 1348.7,811.1 1349.2,811.1 1349.7,811.2 1350.2,811.0 1350.7,811.1 1351.2,810.9 1351.8,810.9 1352.3,811.0 1352.8,811.1 1353.3,811.0 1353.8,811.0 1354.3,810.9 1354.8,810.8 1355.3,810.7 1355.8,811.0 1356.3,810.9 1356.8,810.8 1357.4,810.8 1357.9,810.9 1358.4,810.9 1358.9,810.9 1359.4,810.8 1359.9,810.9 1360.4,810.8 1360.9,810.9 1361.4,811.1 1361.9,811.0 1362.5,811.0 1363.0,811.0 1363.5,810.9 1364.0,810.9 1364.5,810.9 1365.0,811.0 1365.5,811.1 1366.0,811.2 1366.5,811.0 1367.0,811.1 1367.5,811.0 1368.1,810.9 1368.6,810.9 1369.1,811.0 1369.6,811.1 1370.1,811.0 1370.6,811.0 1371.1,811.0 1371.6,810.9 1372.1,810.9 1372.6,810.9 1373.1,810.8 1373.7,811.1 1374.2,811.1 1374.7,811.0 1375.2,811.0 1375.7,811.0 1376.2,811.0 1376.7,811.0 1377.2,811.2 1377.7,811.0 1378.2,810.9 1378.7,811.0 1379.3,811.0 1379.8,810.9 1380.3,811.0 1380.8,811.0 1381.3,810.9 1381.8,811.0 1382.3,810.9 1382.8,810.9 1383.3,811.1 1383.8,811.1 1384.4,811.1 1384.9,811.1 1385.4,811.1 1385.9,810.9 1386.4,811.0 1386.9,810.9 1387.4,810.9 1387.9,811.1 1388.4,811.0 1388.9,811.0 1389.4,811.0 1390.0,811.1 1390.5,811.0 1391.0,811.0 1391.5,811.0 1392.0,811.0 1392.5,810.9 1393.0,810.9 1393.5,811.0 1394.0,810.9 1394.5,811.0 1395.0,811.1 1395.6,811.0 1396.1,810.9 1396.6,810.9 1397.1,810.9 1397.6,811.0 1398.1,810.9 1398.6,810.9 1399.1,810.8 1399.6,810.9 1400.1,811.0 1400.7,811.1 1401.2,811.0 1401.7,811.0 1402.2,811.0 1402.7,811.2 1403.2,811.2 1403.7,811.2 1404.2,811.0 1404.7,811.0 1405.2,811.0 1405.7,810.9 1406.3,811.0 1406.8,810.9 1407.3,811.1 1407.8,810.9 1408.3,811.0 1408.8,811.0 1409.3,811.1 1409.8,811.1 1410.3,811.1 1410.8,811.0 1411.3,811.1 1411.9,811.1 1412.4,811.0 1412.9,811.1 1413.4,810.9 1413.9,811.0 1414.4,810.8 1414.9,811.0 1415.4,810.9 1415.9,811.0 1416.4,811.0 1417.0,810.9 1417.5,811.0 1418.0,811.1 1418.5,810.9 1419.0,811.1 1419.5,811.0 1420.0,810.9 1420.5,810.9 1421.0,810.9 1421.5,811.0 1422.0,810.9 1422.6,810.9 1423.1,810.9 1423.6,810.9 1424.1,811.1 1424.6,811.0 1425.1,811.0 1425.6,810.9 1426.1,810.8 1426.6,810.8 1427.1,810.8 1427.6,810.9 1428.2,811.0 1428.7,811.0 1429.2,810.9 1429.7,810.9 1430.2,811.0 1430.7,810.9 1431.2,810.9 1431.7,810.8 1432.2,810.7 1432.7,810.7 1433.2,810.7 1433.8,810.8 1434.3,810.8 1434.8,810.7 1435.3,810.9 1435.8,810.9 1436.3,810.7 1436.8,810.8 1437.3,810.9 1437.8,810.8 1438.3,810.7 1438.9,810.8 1439.4,810.5 1439.9,810.7 1440.4,810.7 1440.9,810.7 1441.4,810.6 1441.9,810.5 1442.4,810.7 1442.9,810.3 1443.4,810.5 1443.9,810.6 1444.5,810.3 1445.0,810.3 1445.5,810.3 1446.0,810.2 1446.5,810.1 1447.0,810.0 1447.5,810.0 1448.0,810.0 1448.5,809.9 1449.0,809.9 1449.5,809.7 1450.1,809.7 1450.6,809.6 1451.1,809.2 1451.6,808.9 1452.1,808.6 1452.6,808.4 1453.1,807.8 1453.6,807.4 1454.1,806.4 1454.6,805.3 1455.2,803.0 1455.7,799.9 1456.2,794.9 1456.7,788.1 1457.2,779.2 1457.7,769.1 1458.2,759.2 1458.7,752.6 1459.0,751.4 1459.2,751.8 1459.7,756.6 1460.2,764.3 1460.8,771.7 1461.3,777.5 1461.8,781.1 1462.3,783.8 1462.7,785.8 1462.8,786.3 1463.3,789.7 1463.8,793.6 1464.3,797.5 1464.8,800.8 1465.3,803.3 1465.8,805.3 1466.4,806.7 1466.9,807.7 1467.4,808.3 1467.9,808.7 1468.4,809.1 1468.9,809.3 1469.4,809.5 1469.9,809.7 1470.4,809.9 1470.9,810.0 1471.4,810.1 1472.0,810.0 1472.5,810.1 1473.0,810.3 1473.5,810.3 1474.0,810.3 1474.5,810.4 1475.0,810.5 1475.5,810.4 1476.0,810.5 1476.5,810.5 1477.1,810.5 1477.6,810.6 1478.1,810.6 1478.6,810.6 1479.1,810.7 1479.6,810.7 1480.1,810.7 1480.6,810.8 1481.1,810.7 1481.6,810.5 1482.1,810.7 1482.7,810.9 1483.2,810.8 1483.7,810.8 1484.2,810.9 1484.7,810.8 1485.2,810.8 1485.7,810.8 1486.2,810.8 1486.7,810.8 1487.2,811.0 1487.7,810.8 1488.3,810.8 1488.8,810.7 1489.3,810.8 1489.8,810.8 1490.3,810.8 1490.8,810.9 1491.3,810.8 1491.8,810.7 1492.3,811.0 1492.8,810.9 1493.4,810.8 1493.9,810.9 1494.4,810.9 1494.9,810.8 1495.4,810.9 1495.9,811.0 1496.4,811.0 1496.9,810.9 1497.4,811.1 1497.9,810.9 1498.4,810.9 1499.0,810.9 1499.5,810.9 1500.0,810.9 1500.5,811.0 1501.0,811.0 1501.5,811.0 1502.0,811.1 1502.5,810.9 1503.0,810.9 1503.5,810.9 1504.0,810.9 1504.6,811.0 1505.1,810.9 1505.6,811.0 1506.1,811.1 1506.6,811.0 1507.1,810.9 1507.6,811.0 1508.1,811.0 1508.6,810.9 1509.1,810.9 1509.7,810.9 1510.2,810.8 1510.7,810.9 1511.2,811.0 1511.7,811.0 1512.2,810.9 1512.7,810.9 1513.2,810.9 1513.7,811.1 1514.2,811.0 1514.7,811.0 1515.3,811.0 1515.8,811.1 1516.3,810.9 1516.8,811.0 1517.3,811.0 1517.8,811.0 1518.3,810.9 1518.8,810.9 1519.3,811.0 1519.8,811.1 1520.3,810.9 1520.9,811.2 1521.4,811.1 1521.9,811.0 1522.4,811.0 1522.9,810.9 1523.4,811.1 1523.9,811.1 1524.4,811.2 1524.9,811.0 1525.4,810.8 1525.9,810.7 1526.5,810.7 1527.0,810.8 1527.5,810.8 1528.0,810.8 1528.5,810.9 1529.0,810.9 1529.5,811.0 1530.0,811.1 1530.5,811.0 1531.0,811.0 1531.6,811.1 1532.1,810.9 1532.6,810.9 1533.1,810.9 1533.6,810.9 1534.1,810.9 1534.6,811.0 1535.1,810.9 1535.6,811.1 1536.1,811.0 1536.6,811.0 1537.2,811.0 1537.7,810.9 1538.2,810.9 1538.7,810.9 1539.2,810.9 1539.7,811.0 1540.2,811.0 1540.7,810.9 1541.2,811.0 1541.7,810.9 1542.2,810.9 1542.8,810.9 1543.3,811.1 1543.8,811.1 1544.3,811.1 1544.8,811.0 1545.3,811.0 1545.8,811.1 1546.3,811.1 1546.8,811.0 1547.3,811.1 1547.9,810.9 1548.4,810.9 1548.9,810.9 1549.4,811.1 1549.9,811.2 1550.4,811.1 1550.9,811.0 1551.4,811.1 1551.9,811.0 1552.4,811.1 1552.9,811.0 1553.5,811.1 1554.0,811.0 1554.5,811.1 1555.0,811.1 1555.5,811.0 1556.0,811.0 1556.5,810.8 1557.0,810.9 1557.5,811.0 1558.0,811.2 1558.5,811.0 1559.1,811.1 1559.6,811.2 1560.1,811.1 1560.6,811.0 1561.1,811.0 1561.6,811.0 1562.1,811.0 1562.6,810.9 1563.1,810.9 1563.6,811.0 1564.1,810.9 1564.7,810.9 1565.2,810.9 1565.7,811.0 1566.2,811.0 1566.7,811.1 1567.2,811.2 1567.7,811.1 1568.2,811.1 1568.7,811.0 1569.2,811.0 1569.8,811.1 1570.3,811.2 1570.8,811.0 1571.3,811.2 1571.8,811.1 1572.3,811.0 1572.8,810.9 1573.3,811.0 1573.8,811.0 1574.3,811.0 1574.8,811.0 1575.4,811.1 1575.9,811.0 1576.4,811.0 1576.9,811.0 1577.4,811.0 1577.9,811.0 1578.4,811.0 1578.9,811.1 1579.4,810.9 1579.9,810.8 1580.4,811.0 1581.0,811.0 1581.5,811.2 1582.0,811.2 1582.5,811.0 1583.0,810.9 1583.5,811.0 1584.0,811.0 1584.5,811.0 1585.0,811.0 1585.5,810.9 1586.1,810.9 1586.6,811.0 1587.1,810.9 1587.6,810.9 1588.1,811.0 1588.6,811.0 1589.1,810.9 1589.6,811.0 1590.1,811.1 1590.6,811.0 1591.1,810.9 1591.7,810.8 1592.2,810.8 1592.7,810.8 1593.2,810.8 1593.7,810.8 1594.2,811.1 1594.7,811.1 1595.2,811.0 1595.7,811.0 1596.2,811.0 1596.7,811.0 1597.3,810.9 1597.8,810.9 1598.3,810.9 1598.8,810.9 1599.3,810.9 1599.8,810.7 1600.3,810.6 1600.8,810.8 1601.3,811.0 1601.8,811.1 1602.3,810.9 1602.9,810.9 1603.4,811.0 1603.9,811.0 1604.4,810.8 1604.9,811.0 1605.4,810.9 1605.9,811.0 1606.4,810.8 1606.9,810.8 1607.4,811.0 1608.0,811.0 1608.5,811.0 1609.0,811.1 1609.5,811.1 1610.0,811.0 1610.5,811.0 1611.0,811.1 1611.5,811.1 1612.0,811.1 1612.5,811.2 1613.0,811.1 1613.6,811.2 1614.1,811.0 1614.6,811.0 1615.1,811.0 1615.6,811.0 1616.1,810.9 1616.6,810.9 1617.1,810.9 1617.6,811.0 1618.1,811.1 1618.6,811.0 1619.2,810.9 1619.7,810.9 1620.2,810.9 1620.7,810.9 1621.2,811.0 1621.7,811.1 1622.2,811.1 1622.7,811.0 1623.2,811.1 1623.7,811.0 1624.3,811.2 1624.8,811.1 1625.3,811.0 1625.8,811.1 1626.3,811.2 1626.8,811.0 1627.3,811.0 1627.8,810.9 1628.3,810.8 1628.8,810.9 1629.3,811.0 1629.9,810.9 1630.4,810.9 1630.9,811.1 1631.4,811.1 1631.9,811.0 1632.4,811.1 1632.9,811.0 1633.4,811.0 1633.9,810.9 1634.4,811.1 1634.9,811.0 1635.5,811.0 1636.0,810.9 1636.5,810.8 1637.0,810.9 1637.5,811.1 1638.0,811.0 1638.5,811.0 1639.0,811.1 1639.5,811.1 1640.0,811.0 1640.6,811.1 1641.1,811.1 1641.6,811.0 1642.1,810.9 1642.6,810.9 1643.1,810.8 1643.6,810.9 1644.1,810.9 1644.6,810.9 1645.1,810.8 1645.6,810.9 1646.2,810.8 1646.7,810.9 1647.2,810.9 1647.7,811.0 1648.2,810.9 1648.7,811.0 1649.2,811.0 1649.7,811.1 1650.2,811.0 1650.7,810.8 1651.2,810.9 1651.8,810.9 1652.3,810.8 1652.8,810.8 1653.3,810.9 1653.8,811.0 1654.3,811.0 1654.8,811.0 1655.3,811.1 1655.8,811.0 1656.3,811.0 1656.8,810.9 1657.4,810.9 1657.9,810.9 1658.4,811.0 1658.9,810.9 1659.4,810.9 1659.9,811.0 1660.4,811.0 1660.9,811.0 1661.4,810.9 1661.9,810.9 1662.5,811.0 1663.0,811.0 1663.5,811.1 1664.0,810.8 1664.5,810.7 1665.0,810.8 1665.5,810.9 1666.0,810.7 1666.5,810.9 1667.0,811.0 1667.5,810.9 1668.1,811.0 1668.6,811.0 1669.1,811.0 1669.6,810.9 1670.1,811.0 1670.6,810.9 1671.1,810.9 1671.6,810.8 1672.1,810.9 1672.6,811.0 1673.1,810.9 1673.7,810.9 1674.2,810.8 1674.7,810.8 1675.2,811.0 1675.7,810.9 1676.2,811.0 1676.7,811.0 1677.2,810.9 1677.7,810.9 1678.2,810.9 1678.8,810.9 1679.3,810.8 1679.8,810.9 1680.3,810.9 1680.8,811.0 1681.3,810.9 1681.8,810.9 1682.3,811.0 1682.8,810.7 1683.3,810.9 1683.8,810.9 1684.4,810.8 1684.9,811.0 1685.4,811.0 1685.9,811.0 1686.4,811.1 1686.9,811.1 1687.4,810.9 1687.9,810.9 1688.4,811.0 1688.9,811.1 1689.4,811.1 1690.0,811.0 1690.5,811.0 1691.0,810.9 1691.5,810.9 1692.0,810.9 1692.5,810.9 1693.0,810.9 1693.5,810.9 1694.0,810.9 1694.5,811.0 1695.0,811.0 1695.6,811.0 1696.1,810.8 1696.6,810.8 1697.1,810.9 1697.6,810.7 1698.1,810.7 1698.6,810.7 1699.1,810.9 1699.6,810.7 1700.1,810.7 1700.7,810.7 1701.2,810.8 1701.7,810.6 1702.2,810.8 1702.7,810.8 1703.2,810.9 1703.7,810.9 1704.2,810.9 1704.7,810.8 1705.2,810.7 1705.7,810.6 1706.3,810.7 1706.8,810.6 1707.3,810.7 1707.8,810.7 1708.3,810.6 1708.8,810.6 1709.3,810.5 1709.8,810.5 1710.3,810.5 1710.8,810.4 1711.3,810.4 1711.9,810.4 1712.4,810.4 1712.9,810.4 1713.4,810.3 1713.9,810.2 1714.4,810.3 1714.9,810.3 1715.4,810.4 1715.9,810.2 1716.4,810.2 1717.0,810.2 1717.5,810.3 1718.0,810.2 1718.5,810.2 1719.0,809.9 1719.5,809.9 1720.0,810.0 1720.5,809.6 1721.0,809.6 1721.5,809.7 1722.0,809.4 1722.6,809.2 1723.1,809.2 1723.6,809.0 1724.1,808.7 1724.6,808.4 1725.1,808.0 1725.6,807.7 1726.1,807.1 1726.6,806.4 1727.1,805.2 1727.6,803.8 1728.2,801.7 1728.7,798.5 1729.2,794.6 1729.7,789.2 1730.2,782.6 1730.7,774.8 1731.2,766.5 1731.7,758.6 1732.2,752.6 1732.7,750.1 1733.3,751.5 1733.8,756.1 1734.3,762.5 1734.8,769.0 1735.3,774.8 1735.8,779.1 1736.3,782.6 1736.8,785.1 1737.3,787.4 1737.4,787.5 1737.8,789.9 1738.3,792.8 1738.9,795.7 1739.4,798.5 1739.9,800.9 1740.4,802.9 1740.9,804.6 1741.4,805.8 1741.9,806.8 1742.4,807.3 1742.9,808.1 1743.4,808.6 1743.9,808.9 1744.5,809.0 1745.0,809.2 1745.5,809.4 1746.0,809.5 1746.5,809.6 1747.0,809.7 1747.5,809.9 1748.0,809.9 1748.5,810.0 1749.0,810.1 1749.5,810.2 1750.1,810.2 1750.6,810.1 1751.1,810.1 1751.6,810.1 1752.1,810.2 1752.6,810.2 1753.1,810.3 1753.6,810.3 1754.1,810.4 1754.6,810.5 1755.2,810.4 1755.7,810.6 1756.2,810.6 1756.7,810.5 1757.2,810.5 1757.7,810.6 1758.2,810.5 1758.7,810.6 1759.2,810.6 1759.7,810.5 1760.2,810.8 1760.8,810.8 1761.3,810.9 1761.8,811.0 1762.3,810.9 1762.8,810.8 1763.3,810.8 1763.8,810.8 1764.3,810.9 1764.8,810.8 1765.3,810.9 1765.8,810.8 1766.4,810.7 1766.9,810.9 1767.4,810.8 1767.9,810.9 1768.4,810.7 1768.9,810.8 1769.4,810.8 1769.9,810.9 1770.4,810.7 1770.9,810.7 1771.5,810.7 1772.0,810.8 1772.5,810.7 1773.0,810.8 1773.5,810.8 1774.0,810.8 1774.5,810.8 1775.0,810.9 1775.5,810.7 1776.0,810.9 1776.5,810.8 1777.1,810.7 1777.6,810.9 1778.1,810.8 1778.6,810.8 1779.1,810.9 1779.6,810.8 1780.1,810.8 1780.6,810.8 1781.1,810.8 1781.6,810.7 1782.1,810.9 1782.7,810.9 1783.2,810.9 1783.7,810.9 1784.2,810.8 1784.7,810.9 1785.2,810.8 1785.7,810.9 1786.2,810.8 1786.7,810.7 1787.2,810.8 1787.7,811.0 1788.3,810.9 1788.8,810.8 1789.3,810.8 1789.8,810.8 1790.3,810.6 1790.8,810.4 1791.3,810.3 1791.8,810.2 1792.3,810.0 1792.8,809.8 1793.4,809.7 1793.9,809.3 1794.4,808.9 1794.9,808.7 1795.4,808.6 1795.9,808.6 1796.4,808.6 1796.9,808.7 1797.4,809.0 1797.9,809.2 1798.4,809.5 1799.0,809.9 1799.5,810.2 1800.0,810.4 1800.5,810.4 1801.0,810.5 1801.5,810.5 1802.0,810.8 1802.5,810.7 1803.0,810.7 1803.5,810.8 1804.0,810.8 1804.6,810.8 1805.1,810.7 1805.6,810.8 1806.1,810.8 1806.6,810.9 1807.1,810.9 1807.6,810.9 1808.1,810.8 1808.6,810.8 1809.1,810.6 1809.7,810.7 1810.2,810.7 1810.7,810.6 1811.2,810.8 1811.7,810.9 1812.2,810.9 1812.7,811.0 1813.2,810.8 1813.7,810.8 1814.2,810.8 1814.7,810.8 1815.3,810.9 1815.8,811.0 1816.3,811.0 1816.8,810.8 1817.3,810.9 1817.8,810.9 1818.3,810.9 1818.8,810.8 1819.3,810.7 1819.8,810.9 1820.3,810.9 1820.9,810.8 1821.4,810.8 1821.9,810.6 1822.4,810.8 1822.9,810.7 1823.4,810.7 1823.9,810.8 1824.4,810.9 1824.9,811.0 1825.4,810.8 1826.0,810.8 1826.5,810.8 1827.0,810.8 1827.5,810.7 1828.0,810.8 1828.5,810.6 1829.0,810.7 1829.5,810.8 1830.0,810.8 1830.5,810.8 1831.0,810.8 1831.6,810.8 1832.1,810.7 1832.6,810.7 1833.1,810.8 1833.6,810.6 1834.1,810.7 1834.6,810.6 1835.1,810.5 1835.6,810.5 1836.1,810.6 1836.6,810.4 1837.2,810.6 1837.7,810.7 1838.2,810.6 1838.7,810.6 1839.2,810.6 1839.7,810.6 1840.2,810.5 1840.7,810.4 1841.2,810.5 1841.7,810.3 1842.2,810.4 1842.8,810.4 1843.3,810.4 1843.8,810.3 1844.3,810.3 1844.8,810.3 1845.3,810.3 1845.8,810.1 1846.3,810.2 1846.8,810.1 1847.3,810.1 1847.9,810.0 1848.4,810.0 1848.9,809.9 1849.4,809.7 1849.9,809.7 1850.4,809.5 1850.9,809.4 1851.4,809.2 1851.9,808.9 1852.4,808.8 1852.9,808.6 1853.5,808.1 1854.0,807.7 1854.5,807.1 1855.0,806.3 1855.5,805.0 1856.0,803.3 1856.5,800.9 1857.0,797.6 1857.5,793.6 1858.0,788.9 1858.5,783.8 1859.1,778.7 1859.6,774.5 1860.1,772.2 1860.2,772.0 1860.6,772.5 1861.1,775.2 1861.6,779.1 1862.1,783.2 1862.6,787.2 1863.1,790.1 1863.6,792.2 1864.2,793.4 1864.7,794.3 1865.2,794.9 1865.3,794.9 1865.7,795.5 1866.2,796.7 1866.7,797.7 1867.2,798.7 1867.7,799.0 1868.2,798.8 1868.7,797.5 1869.2,795.0 1869.8,791.4 1870.3,786.6 1870.8,781.0 1871.3,774.7 1871.8,768.8 1872.3,764.2 1872.8,762.5 1873.3,764.0 1873.8,767.8 1874.3,773.2 1874.8,778.6 1875.4,783.2 1875.9,787.1 1876.4,789.6 1876.9,791.4 1877.4,792.6 1877.9,793.8 1878.0,793.8 1878.4,795.3 1878.9,797.1 1879.4,799.1 1879.9,801.2 1880.4,803.0 1881.0,804.5 1881.5,805.8 1882.0,806.7 1882.5,807.6 1883.0,808.3 1883.5,808.5 1884.0,808.8 1884.5,809.0 1885.0,809.2 1885.5,809.5 1886.1,809.7 1886.6,809.8 1887.1,809.8 1887.6,810.0 1888.1,810.0 1888.6,810.0 1889.1,810.0 1889.6,810.2 1890.1,810.2 1890.6,810.2 1891.1,810.2 1891.7,810.3 1892.2,810.3 1892.7,810.5 1893.2,810.5 1893.7,810.4 1894.2,810.6 1894.7,810.6 1895.2,810.5 1895.7,810.6 1896.2,810.6 1896.7,810.4 1897.3,810.5 1897.8,810.7 1898.3,810.7 1898.8,810.6 1899.3,810.6 1899.8,810.7 1900.3,810.8 1900.8,810.8 1901.3,810.8 1901.8,810.7 1902.4,810.7 1902.9,810.7 1903.4,810.7 1903.9,810.6 1904.4,810.7 1904.9,810.6 1905.4,810.8 1905.9,810.8 1906.4,810.8 1906.9,810.8 1907.4,810.8 1908.0,810.8 1908.5,810.8 1909.0,810.6 1909.5,810.5 1910.0,810.7 1910.5,810.7 1911.0,810.7 1911.5,810.6 1912.0,810.8 1912.5,810.7 1913.0,810.8 1913.6,810.8 1914.1,810.8 1914.6,810.7 1915.1,810.8 1915.6,810.7 1916.1,810.7 1916.6,810.8 1917.1,810.9 1917.6,810.8 1918.1,810.8 1918.7,810.9 1919.2,810.7 1919.7,810.7 1920.2,810.7 1920.7,810.7 1921.2,810.8 1921.7,810.8 1922.2,810.8 1922.7,810.9 1923.2,810.8 1923.7,810.8 1924.3,810.9 1924.8,810.9 1925.3,810.8 1925.8,810.5 1926.3,810.5 1926.8,810.4 1927.3,810.3 1927.8,810.1 1928.3,809.9 1928.8,809.6 1929.3,809.4 1929.9,809.2 1930.4,809.0 1930.9,808.9 1931.4,809.1 1931.9,809.2 1932.4,809.4 1932.9,809.8 1933.4,809.9 1933.9,810.1 1934.4,810.3 1934.9,810.4 1935.5,810.4 1936.0,810.6 1936.5,810.9 1937.0,810.8 1937.5,810.9 1938.0,811.0 1938.5,810.9 1939.0,810.9 1939.5,810.9 1940.0,810.7 1940.6,810.9 1941.1,810.9 1941.6,810.9 1942.1,810.9 1942.6,811.0 1943.1,810.9 1943.6,810.9 1944.1,811.0 1944.6,810.9 1945.1,811.0 1945.6,810.9 1946.2,811.0 1946.7,811.0 1947.2,811.1 1947.7,810.9 1948.2,810.8 1948.7,810.9 1949.2,810.9 1949.7,810.9 1950.2,810.9 1950.7,810.9 1951.2,811.1 1951.8,811.1 1952.3,811.0 1952.8,810.9 1953.3,810.9 1953.8,810.9 1954.3,811.0 1954.8,810.9 1955.3,810.9 1955.8,810.9 1956.3,810.8 1956.9,811.0 1957.4,811.0 1957.9,811.0 1958.4,811.1 1958.9,811.2 1959.4,811.1 1959.9,811.1 1960.4,811.0 1960.9,811.0 1961.4,810.9 1961.9,811.0 1962.5,811.0 1963.0,811.1 1963.5,811.2 1964.0,811.0 1964.5,811.0 1965.0,811.0 1965.5,811.1 1966.0,811.0 1966.5,811.1 1967.0,811.3 1967.5,811.3 1968.1,811.3 1968.6,811.2 1969.1,811.1 1969.6,810.9 1970.1,811.0 1970.6,810.9 1971.1,810.9 1971.6,811.0 1972.1,811.1 1972.6,811.0 1973.1,811.2 1973.7,811.0 1974.2,810.9 1974.7,811.1 1975.2,811.2 1975.7,811.1 1976.2,811.1 1976.7,810.9 1977.2,811.0 1977.7,810.9 1978.2,811.0 1978.8,811.0 1979.3,810.9 1979.8,811.0 1980.3,811.0 1980.8,811.0 1981.3,810.9 1981.8,810.9 1982.3,811.1 1982.8,811.1 1983.3,810.9 1983.8,810.9 1984.4,811.0 1984.9,811.1 1985.4,811.0 1985.9,811.0 1986.4,811.1 1986.9,810.9 1987.4,810.9 1987.9,810.9 1988.4,811.0 1988.9,810.9 1989.4,811.0 1990.0,810.9 1990.5,811.1 1991.0,811.0 1991.5,811.0 1992.0,811.0 1992.5,811.0 1993.0,811.0 1993.5,810.9 1994.0,811.1 1994.5,811.0 1995.1,811.0 1995.6,811.0 1996.1,811.0 1996.6,810.9 1997.1,811.0 1997.6,810.8 1998.1,811.0 1998.6,810.8 1999.1,810.8 1999.6,811.0 2000.1,810.8 2000.7,810.9 2001.2,810.9 2001.7,811.1 2002.2,811.1 2002.7,811.1 2003.2,811.1 2003.7,811.1 2004.2,811.1 2004.7,810.9 2005.2,811.0 2005.7,810.9 2006.3,811.1 2006.8,811.1 2007.3,811.0 2007.8,811.1 2008.3,810.9 2008.8,811.0 2009.3,810.9 2009.8,810.9 2010.3,810.9 2010.8,810.8 2011.4,810.9 2011.9,811.0 2012.4,811.1 2012.9,811.1 2013.4,811.0 2013.9,811.0 2014.4,810.9 2014.9,810.9 2015.4,811.0 2015.9,810.9 2016.4,810.8 2017.0,810.9 2017.5,810.9 2018.0,810.8 2018.5,810.8 2019.0,810.8 2019.5,810.7 2020.0,810.7 2020.5,810.9 2021.0,810.8 2021.5,810.8 2022.0,810.8 2022.6,810.8 2023.1,810.9 2023.6,810.9 2024.1,810.8 2024.6,810.8 2025.1,810.9 2025.6,810.8 2026.1,810.6 2026.6,810.7 2027.1,810.8 2027.6,810.7 2028.2,810.6 2028.7,810.7 2029.2,810.7 2029.7,810.5 2030.2,810.4 2030.7,810.2 2031.2,810.2 2031.7,809.8 2032.2,809.6 2032.7,809.2 2033.3,808.9 2033.8,808.8 2034.3,808.5 2034.8,808.3 2035.3,808.3 2035.8,808.4 2036.3,808.6 2036.8,808.7 2037.3,809.0 2037.8,809.2 2038.3,809.5 2038.9,809.7 2039.4,809.9 2039.9,810.1 2040.4,810.3 2040.9,810.4 2041.4,810.5 2041.9,810.4 2042.4,810.6 2042.9,810.5 2043.4,810.5 2043.9,810.5 2044.5,810.6 2045.0,810.6 2045.5,810.4 2046.0,810.4 2046.5,810.4 2047.0,810.5 2047.5,810.4 2048.0,810.2 2048.5,810.3 2049.0,810.3 2049.6,810.3 2050.1,810.3 2050.6,810.2 2051.1,810.2 2051.6,810.3 2052.1,810.2 2052.6,810.1 2053.1,810.0 2053.6,810.1 2054.1,810.0 2054.6,809.9 2055.2,809.9 2055.7,809.7 2056.2,809.6 2056.7,809.5 2057.2,809.3 2057.7,809.2 2058.2,808.9 2058.7,808.9 2059.2,808.6 2059.7,808.1 2060.2,807.8 2060.8,807.2 2061.3,806.2 2061.8,804.9 2062.3,803.2 2062.8,800.9 2063.3,797.9 2063.8,794.0 2064.3,789.5 2064.8,784.3 2065.3,778.7 2065.8,773.4 2066.4,768.7 2066.9,766.1 2067.1,765.5 2067.4,765.8 2067.9,768.0 2068.4,772.1 2068.9,776.8 2069.4,781.4 2069.9,785.6 2070.4,788.8 2070.9,791.2 2071.5,792.8 2072.0,793.8 2072.5,794.5 2073.0,795.3 2073.0,795.4 2073.5,796.5 2074.0,797.9 2074.5,799.7 2075.0,801.4 2075.5,802.9 2076.0,804.4 2076.5,805.7 2077.1,806.8 2077.6,807.5 2078.1,808.0 2078.6,808.5 2079.1,808.9 2079.6,809.3 2080.1,809.4 2080.6,809.5 2081.1,809.8 2081.6,809.9 2082.1,809.9 2082.7,809.9 2083.2,810.1 2083.7,810.1 2084.2,810.2 2084.7,810.2 2085.2,810.3 2085.7,810.4 2086.2,810.5 2086.7,810.4 2087.2,810.4 2087.8,810.5 2088.3,810.6 2088.8,810.4 2089.3,810.6 2089.8,810.6 2090.3,810.5 2090.8,810.6 2091.3,810.5 2091.8,810.5 2092.3,810.7 2092.8,810.7 2093.4,810.7 2093.9,810.8 2094.4,810.8 2094.9,810.8 2095.4,810.8 2095.9,810.9 2096.4,810.9 2096.9,810.8 2097.4,810.9 2097.9,811.0 2098.4,810.8 2099.0,810.8 2099.5,811.0 2100.0,810.8 2100.5,810.7 2101.0,810.8 2101.5,810.8 2102.0,810.7 2102.5,810.9 2103.0,810.8 2103.5,810.9 2104.0,811.0 2104.6,810.9 2105.1,810.8 2105.6,811.0 2106.1,811.0 2106.6,810.9 2107.1,810.9 2107.6,810.8 2108.1,810.9 2108.6,810.8 2109.1,811.0 2109.7,810.8 2110.2,810.9 2110.7,810.8 2111.2,810.8 2111.7,810.9" fill="none" stroke="#ff0000" stroke-width="7" stroke-linejoin="round" stroke-linecap="round"/>
<polyline points="329.0,1581.3 329.5,1581.1 330.0,1580.2 330.5,1579.3 331.0,1578.1 331.5,1577.5 332.0,1577.4 332.5,1576.4 333.0,1575.8 333.5,1574.4 334.0,1573.2 334.5,1571.8 335.0,1569.4 335.5,1569.0 336.0,1567.8 336.5,1566.4 337.0,1563.7 337.5,1561.6 338.0,1560.3 338.5,1559.0 339.0,1557.8 339.5,1556.0 340.0,1554.5 340.5,1551.9 341.0,1550.2 341.5,1548.1 342.0,1545.2 342.5,1544.0 343.0,1541.2 343.5,1538.8 344.0,1535.0 344.5,1531.6 345.0,1528.7 345.5,1525.6 346.0,1522.7 346.5,1518.9 347.0,1514.4 347.5,1509.5 348.0,1504.9 348.5,1500.8 349.0,1494.4 349.5,1488.6 350.0,1482.2 350.5,1473.9 351.0,1466.4 351.5,1458.7 352.0,1446.1 352.5,1432.7 353.0,1417.5 353.5,1401.2 354.0,1386.5 354.5,1372.8 355.0,1360.2 355.5,1349.6 356.0,1336.6 356.5,1319.9 357.0,1298.5 357.5,1273.3 358.0,1247.6 358.5,1222.7 359.0,1200.0 359.5,1176.5 360.0,1155.4 360.5,1131.8 361.0,1115.0 361.5,1117.0 362.0,1135.7 362.5,1155.4 363.0,1171.9 363.5,1188.8 364.0,1207.5 364.5,1228.6 365.0,1259.8 365.5,1298.3 366.0,1329.5 366.5,1345.9 367.0,1358.3 367.5,1370.9 368.0,1384.0 368.5,1397.0 369.0,1410.5 369.5,1423.8 370.0,1437.2 370.5,1448.6 371.0,1458.6 371.5,1467.8 372.0,1475.3 372.5,1484.8 373.0,1492.8 373.5,1499.7 374.0,1504.5 374.5,1510.2 375.0,1516.0 375.5,1519.0 376.0,1523.3 376.5,1527.7 377.0,1530.1 377.5,1534.7 378.0,1537.8 378.5,1540.4 379.0,1543.4 379.5,1546.5 380.0,1549.3 380.5,1553.0 381.0,1555.5 381.5,1558.8 382.0,1562.9 382.5,1565.7 383.0,1567.6 383.5,1570.4 384.0,1572.5 384.5,1573.0 385.0,1573.3 385.5,1574.7 386.0,1575.8 386.5,1576.5 387.0,1578.2 387.5,1577.8 388.0,1579.4 388.5,1578.9 389.0,1579.2 389.5,1580.5 390.0,1581.5 390.5,1581.7 391.0,1581.5 391.5,1581.2 392.0,1581.0 392.5,1581.1 393.0,1580.5 393.5,1580.3 394.0,1580.2 394.5,1579.6 395.0,1579.6 395.5,1579.2 396.0,1579.6 396.5,1578.5 397.0,1577.3 397.5,1576.6 398.0,1576.2 398.5,1576.3 399.0,1575.1 399.5,1574.4 400.0,1574.5 400.5,1571.2 401.0,1570.2 401.5,1569.9 402.0,1569.4 402.5,1568.6 403.0,1567.4 403.5,1567.3 404.0,1566.9 404.5,1566.1 405.0,1567.4 405.5,1566.5 406.0,1565.5 406.5,1565.2 407.0,1564.9 407.5,1564.8 408.0,1563.0 408.5,1563.6 409.0,1564.6 409.5,1563.7 410.0,1563.9 410.5,1564.6 411.0,1564.8 411.5,1565.3 412.0,1563.7 412.5,1564.1 413.0,1564.5 413.5,1565.6 414.0,1566.8 414.5,1565.4 415.0,1567.5 415.5,1567.2 416.0,1568.8 416.5,1568.6 417.0,1570.1 417.5,1572.0 418.0,1572.7 418.5,1573.9 419.0,1575.4 419.5,1576.2 420.0,1576.7 420.5,1578.2 421.0,1578.4 421.5,1577.6 422.0,1579.1 422.5,1577.4 423.0,1577.9 423.5,1577.4 424.0,1577.4 424.5,1577.8 425.0,1577.6 425.5,1577.7 426.0,1576.5 426.5,1575.9 427.0,1577.0 427.5,1576.4 428.0,1576.1 428.5,1575.7 429.0,1577.1 429.5,1577.4 430.0,1577.9 430.5,1576.6 431.0,1576.6 431.5,1575.9 432.0,1576.7 432.5,1577.5 433.0,1576.3 433.5,1577.2 434.0,1577.2 434.5,1576.4 435.0,1575.0 435.5,1576.4 436.0,1576.0 436.5,1575.4 437.0,1575.7 437.5,1575.7 438.0,1576.3 438.5,1574.9 439.0,1575.5 439.5,1575.9 440.0,1575.9 440.5,1574.8 441.0,1573.9 441.5,1574.5 442.0,1574.1 442.5,1573.8 443.0,1574.4 443.5,1573.5 444.0,1571.9 444.5,1572.3 445.0,1571.5 445.5,1572.7 446.0,1572.9 446.5,1572.4 447.0,1572.5 447.5,1573.0 448.0,1572.9 448.5,1573.6 449.0,1573.2 449.5,1573.8 450.0,1574.6 450.5,1575.1 451.0,1574.2 451.5,1575.0 452.0,1573.9 452.5,1574.2 453.0,1574.0 453.5,1576.0 454.0,1575.7 454.5,1576.5 455.0,1577.0 455.5,1577.4 456.0,1577.4 456.5,1578.1 457.0,1579.4 457.5,1578.9 458.0,1579.1 458.5,1579.4 459.0,1578.8 459.5,1577.9 460.0,1578.0 460.5,1579.0 461.0,1577.8 461.5,1577.9 462.0,1578.9 462.5,1579.2 463.0,1578.8 463.5,1579.1 464.0,1578.9 464.5,1578.0 465.0,1577.4 465.5,1577.7 466.0,1578.7 466.5,1578.2 467.0,1577.8 467.5,1577.7 468.0,1577.2 468.5,1577.9 469.0,1577.5 469.5,1578.2 470.0,1576.9 470.5,1577.9 471.0,1577.8 471.5,1576.9 472.0,1578.1 472.5,1578.0 473.0,1576.8 473.5,1577.1 474.0,1577.9 474.5,1577.7 475.0,1578.4 475.5,1578.6 476.0,1578.6 476.5,1578.4 477.0,1578.9 477.5,1578.7 478.0,1578.4 478.5,1576.8 479.0,1577.9 479.5,1578.6 480.0,1577.8 480.5,1577.4 481.0,1578.6 481.5,1576.9 482.0,1577.5 482.5,1578.9 483.0,1577.4 483.5,1577.6 484.0,1578.3 484.5,1577.2 485.0,1576.9 485.5,1576.8 486.0,1575.4 486.5,1575.1 487.0,1574.9 487.5,1574.8 488.0,1573.9 488.5,1573.1 489.0,1571.9 489.5,1571.5 490.0,1571.7 490.5,1571.0 491.0,1569.8 491.5,1568.8 492.0,1569.9 492.5,1568.7 493.0,1567.1 493.5,1563.8 494.0,1563.7 494.5,1563.0 495.0,1562.9 495.5,1561.8 496.0,1560.9 496.5,1560.9 497.0,1559.6 497.5,1561.1 498.0,1561.6 498.5,1561.5 499.0,1563.1 499.5,1564.5 500.0,1563.6 500.5,1564.1 501.0,1565.3 501.5,1566.1 502.0,1566.4 502.5,1566.7 503.0,1569.2 503.5,1570.2 504.0,1569.7 504.5,1569.8 505.0,1571.9 505.5,1572.3 506.0,1572.8 506.5,1572.4 507.0,1571.3 507.5,1571.5 508.0,1570.1 508.5,1570.4 509.0,1570.9 509.5,1571.4 510.0,1570.8 510.5,1571.0 511.0,1571.3 511.5,1571.4 512.0,1571.5 512.5,1571.3 513.0,1570.9 513.5,1571.3 514.0,1571.0 514.5,1570.4 515.0,1570.2 515.5,1570.4 516.0,1570.4 516.5,1570.5 517.0,1570.5 517.5,1570.5 518.0,1570.3 518.5,1569.5 519.0,1570.1 519.5,1570.7 520.0,1570.5 520.5,1569.9 521.0,1570.0 521.5,1569.1 522.0,1568.0 522.5,1568.7 523.0,1568.2 523.5,1569.0 524.0,1568.1 524.5,1566.7 525.0,1567.0 525.5,1568.6 526.0,1568.0 526.5,1567.1 527.0,1567.0 527.5,1567.7 528.0,1568.0 528.5,1567.9 529.0,1568.8 529.5,1569.0 530.0,1569.0 530.5,1569.8 531.0,1571.1 531.5,1571.7 532.0,1572.4 532.5,1571.8 533.0,1572.5 533.5,1573.6 534.0,1573.6 534.5,1574.5 535.0,1574.6 535.5,1574.9 536.0,1574.4 536.5,1576.0 537.0,1575.9 537.5,1575.0 538.0,1574.9 538.5,1576.4 539.0,1575.3 539.5,1575.7 540.0,1575.9 540.5,1575.5 541.0,1574.6 541.5,1575.2 542.0,1575.5 542.5,1576.1 543.0,1576.2 543.5,1575.8 544.0,1576.2 544.5,1576.2 545.0,1576.0 545.5,1575.9 546.0,1575.7 546.5,1576.2 547.0,1575.4 547.5,1575.4 548.0,1575.8 548.5,1575.2 549.0,1575.6 549.5,1574.8 550.0,1575.4 550.5,1576.4 551.0,1576.9 551.5,1576.7 552.0,1576.6 552.5,1575.9 553.0,1577.6 553.5,1577.6 554.0,1578.0 554.5,1577.0 555.0,1577.1 555.5,1576.2 556.0,1577.4 556.5,1578.1 557.0,1576.7 557.5,1577.3 558.0,1578.0 558.5,1576.9 559.0,1576.5 559.5,1576.8 560.0,1577.3 560.5,1577.1 561.0,1577.9 561.5,1578.4 562.0,1578.9 562.5,1579.2 563.0,1579.8 563.5,1579.9 564.0,1578.5 564.5,1578.5 565.0,1578.2 565.5,1578.1 566.0,1578.7 566.5,1579.0 567.0,1579.5 567.5,1578.5 568.0,1578.3 568.5,1579.0 569.0,1579.2 569.5,1579.2 570.0,1579.4 570.5,1579.1 571.0,1579.9 571.5,1580.0 572.0,1579.8 572.5,1579.4 573.0,1579.5 573.5,1578.1 574.0,1578.6 574.5,1579.4 575.0,1578.8 575.5,1579.6 576.0,1579.9 576.5,1579.1 577.0,1579.5 577.5,1579.6 578.0,1580.2 578.5,1580.5 579.0,1580.2 579.5,1579.6 580.0,1579.8 580.5,1580.0 581.0,1580.5 581.5,1580.5 582.0,1579.9 582.5,1579.3 583.0,1579.6 583.5,1579.6 584.0,1579.3 584.5,1579.9 585.0,1579.8 585.5,1580.2 586.0,1580.6 586.5,1580.2 587.0,1581.7 587.5,1580.8 588.0,1581.2 588.5,1580.8 589.0,1581.3 589.5,1579.4 590.0,1579.6 590.5,1580.3 591.0,1580.8 591.5,1582.1 592.0,1581.4 592.5,1581.7 593.0,1581.5 593.5,1581.5 594.0,1581.3 594.5,1580.8 595.0,1581.0 595.5,1580.2 596.0,1581.2 596.5,1580.3 597.0,1580.7 597.5,1582.0 598.0,1581.1 598.5,1580.9 599.0,1581.5 599.5,1581.1 600.0,1580.4 600.5,1580.8 601.0,1581.2 601.5,1581.4 602.0,1580.6 602.5,1581.8 603.0,1582.2 603.5,1581.4 604.0,1581.2 604.5,1580.8 605.0,1581.7 605.5,1580.8 606.0,1581.3 606.5,1580.8 607.0,1580.4 607.5,1581.2 608.0,1581.8 608.5,1581.3 609.0,1580.7 609.5,1581.3 610.0,1581.1 610.5,1581.2 611.0,1582.0 611.5,1582.0 612.0,1581.1 612.5,1582.4 613.0,1581.5 613.5,1581.7 614.0,1580.9 614.5,1580.9 615.0,1579.9 615.5,1581.6 616.0,1582.1 616.5,1580.7 617.0,1580.0 617.5,1579.6 618.0,1581.2 618.5,1580.8 619.0,1580.9 619.5,1580.2 620.0,1579.2 620.5,1577.2 621.0,1575.9 621.5,1573.6 622.0,1572.6 622.5,1571.8 623.0,1570.9 623.5,1569.3 624.0,1567.5 624.5,1566.7 625.0,1565.3 625.5,1565.2 626.0,1564.0 626.5,1562.3 627.0,1560.8 627.5,1559.4 628.0,1558.1 628.5,1557.4 629.0,1557.0 629.5,1556.5 630.0,1555.9 630.5,1556.1 631.0,1554.1 631.5,1553.2 632.0,1554.1 632.5,1551.2 633.0,1550.4 633.5,1549.9 634.0,1549.2 634.5,1548.5 635.0,1547.1 635.5,1546.2 636.0,1544.9 636.5,1543.9 637.0,1541.0 637.5,1539.5 638.0,1538.4 638.5,1536.2 639.0,1534.3 639.5,1533.3 640.0,1531.0 640.5,1529.6 641.0,1527.9 641.5,1525.7 642.0,1523.5 642.5,1520.7 643.0,1517.1 643.5,1514.7 644.0,1512.0 644.5,1508.0 645.0,1503.7 645.5,1499.1 646.0,1492.5 646.5,1486.1 647.0,1478.1 647.5,1469.1 648.0,1462.3 648.5,1455.9 649.0,1451.4 649.5,1446.8 650.0,1443.4 650.5,1439.5 651.0,1437.1 651.5,1435.3 652.0,1432.7 652.5,1432.9 653.0,1432.4 653.5,1430.8 654.0,1432.1 654.5,1432.8 655.0,1434.1 655.5,1435.3 656.0,1435.6 656.5,1437.8 657.0,1441.2 657.5,1443.1 658.0,1446.6 658.5,1451.1 659.0,1456.2 659.5,1462.0 660.0,1468.4 660.5,1473.4 661.0,1478.2 661.5,1483.5 662.0,1486.0 662.5,1488.8 663.0,1492.5 663.5,1495.8 664.0,1498.1 664.5,1501.0 665.0,1505.2 665.5,1509.1 666.0,1511.8 666.5,1515.5 667.0,1518.5 667.5,1521.7 668.0,1523.9 668.5,1526.1 669.0,1528.0 669.5,1530.7 670.0,1533.1 670.5,1534.0 671.0,1536.2 671.5,1537.2 672.0,1539.2 672.5,1541.5 673.0,1544.1 673.5,1545.1 674.0,1546.9 674.5,1548.9 675.0,1549.9 675.5,1552.2 676.0,1553.8 676.5,1556.0 677.0,1556.9 677.5,1557.5 678.0,1559.8 678.5,1561.6 679.0,1562.6 679.5,1564.6 680.0,1565.5 680.5,1566.3 681.0,1567.9 681.5,1567.9 682.0,1568.9 682.5,1570.2 683.0,1571.7 683.5,1572.0 684.0,1572.7 684.5,1572.8 685.0,1573.8 685.5,1575.3 686.0,1574.8 686.5,1576.7 687.0,1575.9 687.5,1576.2 688.0,1576.5 688.5,1577.3 689.0,1576.3 689.5,1575.3 690.0,1576.5 690.5,1577.1 691.0,1577.1 691.5,1578.2 692.0,1577.1 692.5,1576.5 693.0,1576.6 693.5,1576.1 694.0,1576.6 694.5,1575.0 695.0,1574.7 695.5,1572.7 696.0,1574.5 696.5,1574.4 697.0,1575.2 697.5,1576.2 698.0,1575.3 698.5,1574.8 699.0,1574.5 699.5,1574.1 700.0,1574.1 700.5,1574.8 701.0,1574.5 701.5,1574.1 702.0,1573.5 702.5,1573.6 703.0,1573.1 703.5,1572.1 704.0,1572.0 704.5,1571.1 705.0,1570.0 705.5,1571.0 706.0,1570.7 706.5,1569.9 707.0,1571.0 707.5,1571.5 708.0,1571.0 708.5,1573.2 709.0,1574.0 709.5,1575.2 710.0,1575.9 710.5,1576.6 711.0,1576.5 711.5,1578.5 712.0,1579.1 712.5,1579.3 713.0,1579.9 713.5,1579.9 714.0,1580.2 714.5,1579.8 715.0,1579.8 715.5,1578.5 716.0,1579.0 716.5,1579.9 717.0,1580.6 717.5,1579.9 718.0,1579.8 718.5,1580.7 719.0,1580.0 719.5,1580.3 720.0,1581.0 720.5,1580.3 721.0,1580.7 721.5,1579.7 722.0,1579.9 722.5,1579.8 723.0,1579.9 723.5,1580.5 724.0,1581.5 724.5,1580.1 725.0,1579.6 725.5,1580.0 726.0,1579.2 726.5,1579.9 727.0,1580.2 727.5,1579.8 728.0,1580.1 728.5,1579.0 729.0,1579.9 729.5,1578.9 730.0,1579.0 730.5,1579.2 731.0,1579.3 731.5,1580.1 732.0,1580.0 732.5,1579.6 733.0,1580.1 733.5,1580.9 734.0,1580.2 734.5,1580.2 735.0,1580.7 735.5,1580.3 736.0,1579.2 736.5,1581.1 737.0,1581.6 737.5,1579.3 738.0,1579.6 738.5,1580.0 739.0,1580.4 739.5,1580.5 740.0,1579.9 740.5,1579.2 741.0,1579.6 741.5,1580.1 742.0,1578.8 742.5,1578.0 743.0,1577.8 743.5,1576.2 744.0,1576.1 744.5,1575.5 745.0,1575.3 745.5,1574.1 746.0,1573.0 746.5,1572.5 747.0,1572.2 747.5,1571.3 748.0,1570.9 748.5,1570.7 749.0,1570.4 749.5,1570.3 750.0,1568.4 750.5,1567.7 751.0,1566.1 751.5,1568.1 752.0,1567.7 752.5,1568.5 753.0,1569.8 753.5,1569.9 754.0,1571.8 754.5,1573.0 755.0,1573.0 755.5,1574.9 756.0,1576.6 756.5,1575.6 757.0,1576.8 757.5,1577.0 758.0,1577.2 758.5,1577.3 759.0,1577.9 759.5,1577.3 760.0,1577.7 760.5,1577.1 761.0,1577.6 761.5,1576.8 762.0,1577.0 762.5,1578.2 763.0,1577.9 763.5,1577.4 764.0,1576.6 764.5,1576.6 765.0,1577.1 765.5,1577.8 766.0,1577.8 766.5,1577.9 767.0,1577.6 767.5,1578.3 768.0,1577.6 768.5,1577.2 769.0,1577.9 769.5,1577.7 770.0,1577.5 770.5,1577.3 771.0,1577.4 771.5,1578.0 772.0,1578.2 772.5,1577.4 773.0,1578.1 773.5,1578.4 774.0,1577.9 774.5,1578.9 775.0,1578.7 775.5,1578.8 776.0,1579.6 776.5,1580.3 777.0,1579.4 777.5,1579.8 778.0,1579.3 778.5,1581.0 779.0,1580.0 779.5,1580.5 780.0,1579.3 780.5,1579.1 781.0,1579.2 781.5,1575.6 782.0,1574.6 782.5,1573.8 783.0,1572.2 783.5,1570.3 784.0,1570.3 784.5,1568.2 785.0,1565.5 785.5,1565.3 786.0,1562.9 786.5,1562.8 787.0,1560.8 787.5,1559.6 788.0,1559.0 788.5,1557.3 789.0,1555.1 789.5,1553.5 790.0,1554.3 790.5,1554.2 791.0,1553.0 791.5,1553.3 792.0,1553.1 792.5,1553.0 793.0,1551.3 793.5,1552.1 794.0,1553.6 794.5,1554.7 795.0,1556.0 795.5,1555.2 796.0,1557.2 796.5,1558.9 797.0,1561.6 797.5,1561.7 798.0,1563.3 798.5,1565.3 799.0,1567.7 799.5,1569.0 800.0,1571.5 800.5,1572.2 801.0,1573.8 801.5,1574.4 802.0,1575.4 802.5,1575.8 803.0,1575.8 803.5,1577.8 804.0,1578.4 804.5,1578.5 805.0,1579.2 805.5,1580.1 806.0,1579.4 806.5,1579.6 807.0,1580.0 807.5,1580.2 808.0,1579.8 808.5,1578.5 809.0,1580.0 809.5,1580.1 810.0,1579.9 810.5,1579.7 811.0,1579.9 811.5,1579.6 812.0,1579.1 812.5,1579.1 813.0,1579.2 813.5,1579.2 814.0,1578.9 814.5,1579.8 815.0,1579.0 815.5,1579.9 816.0,1579.2 816.5,1579.8 817.0,1580.6 817.5,1580.2 818.0,1579.5 818.5,1579.7 819.0,1579.9 819.5,1578.8 820.0,1579.0 820.5,1579.6 821.0,1579.4 821.5,1579.7 822.0,1580.2 822.5,1580.4 823.0,1580.6 823.5,1580.5 824.0,1579.9 824.5,1579.8 825.0,1579.6 825.5,1579.6 826.0,1579.6 826.5,1578.7 827.0,1579.2 827.5,1579.5 828.0,1579.1 828.5,1579.5 829.0,1580.0 829.5,1579.8 830.0,1581.0 830.5,1578.7 831.0,1579.2 831.5,1578.5 832.0,1579.9 832.5,1581.4 833.0,1578.9 833.5,1579.5 834.0,1580.0 834.5,1579.7 835.0,1580.1 835.5,1578.6 836.0,1579.8 836.5,1580.0 837.0,1579.9 837.5,1579.4 838.0,1579.5 838.5,1578.5 839.0,1578.0 839.5,1576.8 840.0,1574.7 840.5,1574.6 841.0,1574.2 841.5,1573.9 842.0,1572.3 842.5,1571.8 843.0,1571.5 843.5,1570.5 844.0,1570.2 844.5,1570.1 845.0,1567.8 845.5,1565.8 846.0,1566.2 846.5,1566.5 847.0,1566.0 847.5,1565.6 848.0,1564.6 848.5,1564.2 849.0,1565.1 849.5,1564.6 850.0,1564.1 850.5,1564.5 851.0,1567.0 851.5,1567.8 852.0,1566.7 852.5,1566.4 853.0,1566.9 853.5,1566.7 854.0,1568.0 854.5,1567.8 855.0,1567.2 855.5,1568.6 856.0,1568.1 856.5,1568.4 857.0,1568.5 857.5,1568.4 858.0,1568.7 858.5,1568.2 859.0,1566.9 859.5,1565.8 860.0,1565.4 860.5,1564.9 861.0,1564.7 861.5,1564.1 862.0,1563.8 862.5,1563.1 863.0,1562.2 863.5,1561.9 864.0,1561.2 864.5,1562.4 865.0,1563.7 865.5,1564.7 866.0,1565.1 866.5,1565.7 867.0,1567.0 867.5,1567.2 868.0,1567.9 868.5,1568.2 869.0,1568.1 869.5,1568.8 870.0,1568.0 870.5,1567.9 871.0,1567.7 871.5,1567.6 872.0,1569.1 872.5,1569.8 873.0,1569.1 873.5,1569.1 874.0,1569.5 874.5,1569.5 875.0,1568.0 875.5,1562.2 876.0,1556.1 876.5,1550.4 877.0,1545.6 877.5,1541.4 878.0,1538.2 878.5,1535.9 879.0,1533.7 879.5,1531.9 880.0,1532.1 880.5,1531.0 881.0,1531.4 881.5,1533.6 882.0,1535.0 882.5,1536.3 883.0,1537.8 883.5,1540.7 884.0,1546.0 884.5,1553.8 885.0,1562.8 885.5,1568.4 886.0,1571.2 886.5,1573.1 887.0,1575.3 887.5,1577.5 888.0,1577.2 888.5,1577.9 889.0,1578.3 889.5,1578.0 890.0,1578.1 890.5,1578.8 891.0,1579.8 891.5,1579.4 892.0,1579.0 892.5,1577.8 893.0,1579.4 893.5,1578.8 894.0,1578.4 894.5,1577.3 895.0,1577.2 895.5,1576.1 896.0,1576.0 896.5,1575.7 897.0,1574.8 897.5,1574.1 898.0,1572.5 898.5,1572.7 899.0,1570.9 899.5,1568.9 900.0,1568.3 900.5,1566.8 901.0,1565.1 901.5,1563.7 902.0,1562.2 902.5,1559.4 903.0,1557.4 903.5,1556.0 904.0,1553.3 904.5,1549.9 905.0,1546.9 905.5,1543.2 906.0,1538.7 906.5,1534.0 907.0,1528.1 907.5,1520.9 908.0,1516.4 908.5,1511.0 909.0,1506.0 909.5,1500.1 910.0,1495.8 910.5,1494.3 911.0,1490.8 911.5,1488.4 912.0,1486.8 912.5,1485.4 913.0,1485.5 913.5,1487.1 914.0,1487.5 914.5,1487.2 915.0,1487.8 915.5,1489.7 916.0,1490.0 916.5,1490.8 917.0,1491.8 917.5,1493.2 918.0,1494.5 918.5,1494.8 919.0,1494.8 919.5,1495.0 920.0,1496.1 920.5,1496.1 921.0,1494.2 921.5,1492.6 922.0,1490.4 922.5,1487.7 923.0,1484.6 923.5,1481.1 924.0,1478.6 924.5,1474.7 925.0,1472.1 925.5,1468.3 926.0,1463.8 926.5,1462.2 927.0,1459.6 927.5,1455.4 928.0,1454.7 928.5,1453.0 929.0,1452.8 929.5,1451.1 930.0,1451.7 930.5,1452.0 931.0,1452.3 931.5,1452.8 932.0,1453.9 932.5,1453.2 933.0,1453.6 933.5,1454.1 934.0,1455.5 934.5,1457.3 935.0,1460.1 935.5,1462.6 936.0,1464.9 936.5,1466.6 937.0,1468.4 937.5,1471.1 938.0,1473.3 938.5,1474.7 939.0,1475.7 939.5,1477.6 940.0,1476.7 940.5,1475.5 941.0,1473.0 941.5,1468.3 942.0,1464.1 942.5,1458.2 943.0,1454.1 943.5,1447.8 944.0,1439.4 944.5,1432.3 945.0,1423.3 945.5,1416.0 946.0,1407.0 946.5,1398.1 947.0,1389.1 947.5,1380.1 948.0,1372.9 948.5,1365.4 949.0,1358.9 949.5,1352.6 950.0,1348.9 950.5,1346.5 951.0,1348.8 951.5,1350.2 952.0,1351.0 952.5,1354.1 953.0,1358.7 953.5,1367.1 954.0,1376.4 954.5,1389.1 955.0,1400.7 955.5,1417.7 956.0,1432.9 956.5,1446.0 957.0,1456.8 957.5,1466.6 958.0,1476.9 958.5,1485.1 959.0,1492.2 959.5,1498.0 960.0,1502.5 960.5,1506.4 961.0,1510.9 961.5,1514.6 962.0,1517.8 962.5,1521.6 963.0,1524.5 963.5,1526.8 964.0,1529.2 964.5,1531.1 965.0,1533.0 965.5,1534.9 966.0,1536.5 966.5,1536.8 967.0,1537.2 967.5,1539.7 968.0,1540.6 968.5,1542.1 969.0,1541.5 969.5,1542.6 970.0,1543.7 970.5,1543.7 971.0,1544.7 971.5,1546.2 972.0,1547.3 972.5,1548.4 973.0,1547.7 973.5,1547.3 974.0,1548.6 974.5,1549.6 975.0,1549.8 975.5,1549.2 976.0,1550.4 976.5,1551.1 977.0,1551.4 977.5,1551.1 978.0,1551.6 978.5,1552.3 979.0,1551.9 979.5,1551.2 980.0,1552.3 980.5,1553.1 981.0,1553.3 981.5,1554.1 982.0,1553.7 982.5,1554.1 983.0,1554.3 983.5,1555.1 984.0,1556.3 984.5,1555.8 985.0,1557.1 985.5,1557.5 986.0,1557.3 986.5,1557.2 987.0,1558.0 987.5,1557.1 988.0,1556.8 988.5,1555.9 989.0,1556.0 989.5,1555.9 990.0,1554.7 990.5,1553.2 991.0,1551.3 991.5,1549.7 992.0,1547.0 992.5,1546.4 993.0,1543.6 993.5,1539.8 994.0,1536.2 994.5,1532.5 995.0,1530.4 995.5,1528.7 996.0,1525.9 996.5,1525.4 997.0,1524.7 997.5,1523.4 998.0,1523.0 998.5,1524.6 999.0,1527.1 999.5,1530.7 1000.0,1533.6 1000.5,1535.6 1001.0,1539.3 1001.5,1541.8 1002.0,1546.6 1002.5,1549.5 1003.0,1553.1 1003.5,1556.1 1004.0,1558.8 1004.5,1561.5 1005.0,1562.5 1005.5,1563.2 1006.0,1563.6 1006.5,1562.9 1007.0,1563.6 1007.5,1564.0 1008.0,1564.2 1008.5,1565.3 1009.0,1565.2 1009.5,1565.4 1010.0,1565.4 1010.5,1564.9 1011.0,1566.5 1011.5,1567.7 1012.0,1567.7 1012.5,1567.1 1013.0,1566.0 1013.5,1567.4 1014.0,1568.7 1014.5,1568.7 1015.0,1569.2 1015.5,1569.9 1016.0,1570.0 1016.5,1569.2 1017.0,1569.9 1017.5,1570.1 1018.0,1568.9 1018.5,1569.3 1019.0,1568.9 1019.5,1569.7 1020.0,1570.6 1020.5,1570.1 1021.0,1569.5 1021.5,1571.5 1022.0,1572.0 1022.5,1573.1 1023.0,1572.2 1023.5,1573.5 1024.0,1575.0 1024.5,1575.8 1025.0,1575.1 1025.5,1575.3 1026.0,1575.4 1026.5,1576.4 1027.0,1577.0 1027.5,1576.8 1028.0,1576.0 1028.5,1577.0 1029.0,1576.8 1029.5,1577.3 1030.0,1577.1 1030.5,1577.4 1031.0,1576.8 1031.5,1575.0 1032.0,1574.1 1032.5,1573.9 1033.0,1571.7 1033.5,1570.6 1034.0,1570.0 1034.5,1569.1 1035.0,1567.7 1035.5,1565.5 1036.0,1564.2 1036.5,1564.2 1037.0,1563.8 1037.5,1564.5 1038.0,1562.4 1038.5,1562.3 1039.0,1561.8 1039.5,1559.8 1040.0,1559.3 1040.5,1559.4 1041.0,1558.7 1041.5,1558.5 1042.0,1558.5 1042.5,1557.6 1043.0,1558.0 1043.5,1557.5 1044.0,1557.4 1044.5,1558.2 1045.0,1558.0 1045.5,1558.7 1046.0,1560.0 1046.5,1559.8 1047.0,1559.7 1047.5,1560.3 1048.0,1560.0 1048.5,1558.6 1049.0,1546.7 1049.5,1530.3 1050.0,1508.8 1050.5,1469.0 1051.0,1442.3 1051.5,1422.3 1052.0,1408.8 1052.5,1399.7 1053.0,1396.2 1053.5,1391.7 1054.0,1390.0 1054.5,1388.9 1055.0,1387.4 1055.5,1387.3 1056.0,1389.5 1056.5,1390.2 1057.0,1391.7 1057.5,1394.0 1058.0,1403.2 1058.5,1422.4 1059.0,1440.4 1059.5,1458.4 1060.0,1472.1 1060.5,1480.0 1061.0,1485.6 1061.5,1488.2 1062.0,1492.3 1062.5,1496.1 1063.0,1497.2 1063.5,1499.2 1064.0,1501.4 1064.5,1503.0 1065.0,1506.2 1065.5,1507.2 1066.0,1510.1 1066.5,1512.7 1067.0,1512.8 1067.5,1514.5 1068.0,1515.1 1068.5,1518.0 1069.0,1519.3 1069.5,1521.3 1070.0,1523.6 1070.5,1526.2 1071.0,1528.1 1071.5,1530.5 1072.0,1532.5 1072.5,1535.0 1073.0,1536.5 1073.5,1539.0 1074.0,1540.0 1074.5,1542.4 1075.0,1546.0 1075.5,1547.5 1076.0,1548.4 1076.5,1550.9 1077.0,1552.4 1077.5,1553.9 1078.0,1556.4 1078.5,1559.7 1079.0,1562.2 1079.5,1564.1 1080.0,1565.4 1080.5,1566.6 1081.0,1569.2 1081.5,1570.3 1082.0,1570.8 1082.5,1570.9 1083.0,1572.1 1083.5,1575.4 1084.0,1575.0 1084.5,1575.9 1085.0,1576.6 1085.5,1576.8 1086.0,1576.8 1086.5,1576.1 1087.0,1576.1 1087.5,1577.7 1088.0,1576.9 1088.5,1577.6 1089.0,1576.3 1089.5,1576.7 1090.0,1577.1 1090.5,1577.8 1091.0,1576.8 1091.5,1577.4 1092.0,1577.5 1092.5,1576.9 1093.0,1577.4 1093.5,1576.8 1094.0,1576.6 1094.5,1577.0 1095.0,1575.6 1095.5,1576.5 1096.0,1576.4 1096.5,1576.1 1097.0,1576.6 1097.5,1577.5 1098.0,1577.2 1098.5,1578.0 1099.0,1576.9 1099.5,1576.4 1100.0,1577.9 1100.5,1577.8 1101.0,1578.1 1101.5,1577.2 1102.0,1577.8 1102.5,1577.7 1103.0,1577.9 1103.5,1577.7 1104.0,1578.3 1104.5,1577.4 1105.0,1576.9 1105.5,1576.4 1106.0,1577.8 1106.5,1577.2 1107.0,1576.9 1107.5,1576.8 1108.0,1577.1 1108.5,1576.8 1109.0,1577.2 1109.5,1577.3 1110.0,1577.4 1110.5,1577.2 1111.0,1577.8 1111.5,1577.7 1112.0,1578.1 1112.5,1578.4 1113.0,1578.6 1113.5,1577.2 1114.0,1577.7 1114.5,1577.8 1115.0,1578.8 1115.5,1577.9 1116.0,1578.0 1116.5,1578.4 1117.0,1578.6 1117.5,1579.5 1118.0,1579.1 1118.5,1579.8 1119.0,1578.7 1119.5,1578.0 1120.0,1579.7 1120.5,1579.9 1121.0,1580.1 1121.5,1579.9 1122.0,1580.2 1122.5,1579.3 1123.0,1580.2 1123.5,1579.8 1124.0,1580.5 1124.5,1580.3 1125.0,1579.1 1125.5,1579.0 1126.0,1580.4 1126.5,1580.3 1127.0,1580.1 1127.5,1580.4 1128.0,1580.1 1128.5,1580.0 1129.0,1580.3 1129.5,1580.4 1130.0,1581.3 1130.5,1580.8 1131.0,1581.7 1131.5,1582.0 1132.0,1582.1 1132.5,1581.7 1133.0,1581.0 1133.5,1580.7 1134.0,1580.4 1134.5,1579.9 1135.0,1580.1 1135.5,1579.8 1136.0,1581.1 1136.5,1580.9 1137.0,1580.2 1137.5,1579.1 1138.0,1579.7 1138.5,1579.7 1139.0,1579.3 1139.5,1579.1 1140.0,1578.3 1140.5,1579.7 1141.0,1579.8 1141.5,1581.5 1142.0,1580.5 1142.5,1580.1 1143.0,1580.8 1143.5,1580.3 1144.0,1580.1 1144.5,1579.6 1145.0,1579.3 1145.5,1580.4 1146.0,1580.5 1146.5,1581.0 1147.0,1579.9 1147.5,1579.6 1148.0,1578.9 1148.5,1579.6 1149.0,1578.4 1149.5,1579.0 1150.0,1579.5 1150.5,1579.8 1151.0,1578.4 1151.5,1578.9 1152.0,1577.9 1152.5,1577.4 1153.0,1576.7 1153.5,1577.8 1154.0,1578.4 1154.5,1577.2 1155.0,1576.5 1155.5,1576.3 1156.0,1577.8 1156.5,1577.4 1157.0,1576.2 1157.5,1574.9 1158.0,1574.9 1158.5,1576.0 1159.0,1576.7 1159.5,1575.6 1160.0,1574.9 1160.5,1574.6 1161.0,1573.6 1161.5,1574.9 1162.0,1574.1 1162.5,1575.0 1163.0,1573.7 1163.5,1573.3 1164.0,1574.0 1164.5,1573.6 1165.0,1574.2 1165.5,1573.9 1166.0,1572.9 1166.5,1573.4 1167.0,1573.5 1167.5,1570.7 1168.0,1570.1 1168.5,1567.0 1169.0,1564.0 1169.5,1559.6 1170.0,1557.3 1170.5,1556.0 1171.0,1555.5 1171.5,1552.9 1172.0,1551.6 1172.5,1549.9 1173.0,1550.0 1173.5,1550.4 1174.0,1549.5 1174.5,1549.9 1175.0,1551.0 1175.5,1552.3 1176.0,1552.6 1176.5,1552.6 1177.0,1552.4 1177.5,1553.0 1178.0,1554.7 1178.5,1558.7 1179.0,1563.1 1179.5,1568.1 1180.0,1570.3 1180.5,1570.6 1181.0,1573.0 1181.5,1574.2 1182.0,1574.5 1182.5,1574.5 1183.0,1574.1 1183.5,1574.5 1184.0,1576.0 1184.5,1575.7 1185.0,1575.4 1185.5,1576.3 1186.0,1576.8 1186.5,1577.4 1187.0,1577.7 1187.5,1578.4 1188.0,1577.5 1188.5,1578.3 1189.0,1577.5 1189.5,1578.3 1190.0,1578.3 1190.5,1578.5 1191.0,1579.0 1191.5,1578.7 1192.0,1579.3 1192.5,1579.4 1193.0,1579.1 1193.5,1578.5 1194.0,1578.2 1194.5,1578.2 1195.0,1578.5 1195.5,1578.7 1196.0,1580.5 1196.5,1579.9 1197.0,1579.7 1197.5,1578.6 1198.0,1578.3 1198.5,1578.4 1199.0,1578.7 1199.5,1578.1 1200.0,1579.4 1200.5,1578.6 1201.0,1579.3 1201.5,1577.4 1202.0,1578.1 1202.5,1578.5 1203.0,1578.5 1203.5,1578.8 1204.0,1578.6 1204.5,1578.5 1205.0,1577.1 1205.5,1577.2 1206.0,1576.2 1206.5,1577.2 1207.0,1574.1 1207.5,1567.9 1208.0,1560.1 1208.5,1552.6 1209.0,1547.5 1209.5,1540.3 1210.0,1531.3 1210.5,1524.6 1211.0,1518.3 1211.5,1515.8 1212.0,1515.3 1212.5,1514.4 1213.0,1514.0 1213.5,1514.3 1214.0,1516.7 1214.5,1516.3 1215.0,1517.9 1215.5,1520.1 1216.0,1522.2 1216.5,1525.2 1217.0,1529.0 1217.5,1531.7 1218.0,1536.7 1218.5,1541.5 1219.0,1546.3 1219.5,1549.0 1220.0,1552.0 1220.5,1555.1 1221.0,1560.1 1221.5,1563.5 1222.0,1565.8 1222.5,1565.7 1223.0,1566.6 1223.5,1566.8 1224.0,1566.6 1224.5,1566.8 1225.0,1568.0 1225.5,1568.4 1226.0,1568.2 1226.5,1568.5 1227.0,1567.8 1227.5,1567.5 1228.0,1566.5 1228.5,1565.5 1229.0,1563.7 1229.5,1561.8 1230.0,1560.0 1230.5,1558.1 1231.0,1558.3 1231.5,1556.3 1232.0,1554.4 1232.5,1553.9 1233.0,1552.7 1233.5,1550.6 1234.0,1551.8 1234.5,1553.3 1235.0,1555.5 1235.5,1557.0 1236.0,1557.8 1236.5,1557.1 1237.0,1556.5 1237.5,1556.3 1238.0,1555.5 1238.5,1553.2 1239.0,1551.6 1239.5,1549.9 1240.0,1548.6 1240.5,1547.5 1241.0,1546.2 1241.5,1545.1 1242.0,1546.3 1242.5,1547.0 1243.0,1546.3 1243.5,1546.7 1244.0,1546.5 1244.5,1546.5 1245.0,1546.4 1245.5,1545.7 1246.0,1546.1 1246.5,1546.6 1247.0,1545.6 1247.5,1546.8 1248.0,1547.3 1248.5,1547.2 1249.0,1547.1 1249.5,1546.2 1250.0,1545.1 1250.5,1544.4 1251.0,1543.9 1251.5,1544.2 1252.0,1544.2 1252.5,1544.7 1253.0,1543.7 1253.5,1546.3 1254.0,1547.9 1254.5,1547.8 1255.0,1548.8 1255.5,1549.8 1256.0,1550.9 1256.5,1552.4 1257.0,1554.2 1257.5,1555.6 1258.0,1557.3 1258.5,1558.3 1259.0,1559.4 1259.5,1559.6 1260.0,1560.6 1260.5,1561.4 1261.0,1562.4 1261.5,1562.1 1262.0,1563.2 1262.5,1564.2 1263.0,1564.7 1263.5,1564.5 1264.0,1564.5 1264.5,1564.9 1265.0,1565.7 1265.5,1566.7 1266.0,1566.3 1266.5,1566.0 1267.0,1566.7 1267.5,1567.2 1268.0,1567.1 1268.5,1567.7 1269.0,1569.0 1269.5,1570.8 1270.0,1571.1 1270.5,1572.1 1271.0,1574.0 1271.5,1574.2 1272.0,1575.4 1272.5,1576.3 1273.0,1576.7 1273.5,1576.7 1274.0,1577.5 1274.5,1577.9 1275.0,1578.6 1275.5,1578.3 1276.0,1579.3 1276.5,1578.0 1277.0,1578.3 1277.5,1578.5 1278.0,1579.1 1278.5,1578.4 1279.0,1578.7 1279.5,1578.1 1280.0,1578.5 1280.5,1579.2 1281.0,1578.2 1281.5,1578.2 1282.0,1577.3 1282.5,1578.0 1283.0,1578.3 1283.5,1577.7 1284.0,1576.7 1284.5,1577.2 1285.0,1577.8 1285.5,1578.0 1286.0,1578.0 1286.5,1576.4 1287.0,1576.4 1287.5,1577.8 1288.0,1576.8 1288.5,1577.9 1289.0,1578.8 1289.5,1578.6 1290.0,1578.9 1290.5,1578.2 1291.0,1577.5 1291.5,1578.0 1292.0,1578.2 1292.5,1578.5 1293.0,1579.2 1293.5,1579.1 1294.0,1579.3 1294.5,1579.7 1295.0,1579.6 1295.5,1580.8 1296.0,1580.6 1296.5,1580.3 1297.0,1580.1 1297.5,1579.8 1298.0,1581.0 1298.5,1580.7 1299.0,1579.9 1299.5,1579.9 1300.0,1580.2 1300.5,1580.1 1301.0,1581.0 1301.5,1580.0 1302.0,1580.5 1302.5,1580.5 1303.0,1579.7 1303.5,1580.1 1304.0,1580.1 1304.5,1580.5 1305.0,1580.0 1305.5,1580.3 1306.0,1579.1 1306.5,1579.0 1307.0,1580.0 1307.5,1580.5 1308.0,1580.1 1308.5,1579.5 1309.0,1580.2 1309.5,1578.5 1310.0,1578.6 1310.5,1579.5 1311.0,1579.8 1311.5,1578.8 1312.0,1577.9 1312.5,1579.5 1313.0,1579.3 1313.5,1578.5 1314.0,1578.7 1314.5,1579.3 1315.0,1577.3 1315.5,1578.7 1316.0,1579.0 1316.5,1577.3 1317.0,1578.3 1317.5,1577.1 1318.0,1578.3 1318.5,1578.2 1319.0,1579.2 1319.5,1577.8 1320.0,1577.6 1320.5,1578.0 1321.0,1577.1 1321.5,1576.6 1322.0,1576.5 1322.5,1576.5 1323.0,1575.9 1323.5,1576.4 1324.0,1576.6 1324.5,1576.3 1325.0,1577.1 1325.5,1576.1 1326.0,1576.6 1326.5,1575.6 1327.0,1575.9 1327.5,1574.3 1328.0,1574.8 1328.5,1574.7 1329.0,1574.4 1329.5,1574.2 1330.0,1574.1 1330.5,1573.8 1331.0,1572.7 1331.5,1573.2 1332.0,1573.3 1332.5,1573.3 1333.0,1572.9 1333.5,1573.3 1334.0,1573.9 1334.5,1573.5 1335.0,1573.1 1335.5,1574.0 1336.0,1574.1 1336.5,1574.1 1337.0,1574.2 1337.5,1573.3 1338.0,1573.0 1338.5,1573.6 1339.0,1572.8 1339.5,1572.7 1340.0,1572.9 1340.5,1573.0 1341.0,1572.6 1341.5,1573.2 1342.0,1572.7 1342.5,1573.0 1343.0,1573.3 1343.5,1573.2 1344.0,1573.2 1344.5,1572.0 1345.0,1571.4 1345.5,1571.6 1346.0,1572.3 1346.5,1573.1 1347.0,1571.8 1347.5,1572.2 1348.0,1571.7 1348.5,1571.5 1349.0,1571.7 1349.5,1572.3 1350.0,1572.2 1350.5,1572.8 1351.0,1571.7 1351.5,1572.3 1352.0,1572.6 1352.5,1572.1 1353.0,1572.2 1353.5,1571.5 1354.0,1570.9 1354.5,1571.1 1355.0,1571.0 1355.5,1573.0 1356.0,1571.7 1356.5,1572.5 1357.0,1571.9 1357.5,1571.6 1358.0,1571.8 1358.5,1570.8 1359.0,1571.4 1359.5,1571.3 1360.0,1570.0 1360.5,1570.7 1361.0,1570.8 1361.5,1570.7 1362.0,1571.1 1362.5,1569.9 1363.0,1569.8 1363.5,1569.8 1364.0,1568.5 1364.5,1569.1 1365.0,1567.6 1365.5,1566.8 1366.0,1567.4 1366.5,1566.5 1367.0,1566.5 1367.5,1565.5 1368.0,1565.9 1368.5,1565.2 1369.0,1565.7 1369.5,1564.6 1370.0,1565.3 1370.5,1565.0 1371.0,1565.1 1371.5,1565.0 1372.0,1565.0 1372.5,1564.1 1373.0,1563.0 1373.5,1564.1 1374.0,1563.9 1374.5,1564.1 1375.0,1564.7 1375.5,1563.4 1376.0,1563.7 1376.5,1563.8 1377.0,1563.6 1377.5,1564.3 1378.0,1564.3 1378.5,1563.9 1379.0,1563.6 1379.5,1564.5 1380.0,1564.0 1380.5,1564.4 1381.0,1564.5 1381.5,1563.1 1382.0,1563.0 1382.5,1563.5 1383.0,1563.9 1383.5,1564.1 1384.0,1564.0 1384.5,1563.8 1385.0,1562.6 1385.5,1562.0 1386.0,1562.0 1386.5,1561.0 1387.0,1561.3 1387.5,1559.5 1388.0,1560.0 1388.5,1559.5 1389.0,1558.2 1389.5,1559.4 1390.0,1559.6 1390.5,1559.6 1391.0,1559.2 1391.5,1559.6 1392.0,1561.3 1392.5,1560.9 1393.0,1559.5 1393.5,1560.8 1394.0,1561.5 1394.5,1562.7 1395.0,1563.4 1395.5,1563.6 1396.0,1563.9 1396.5,1565.4 1397.0,1564.6 1397.5,1566.4 1398.0,1565.8 1398.5,1565.3 1399.0,1566.4 1399.5,1566.7 1400.0,1566.0 1400.5,1566.9 1401.0,1565.8 1401.5,1566.0 1402.0,1567.4 1402.5,1567.2 1403.0,1566.6 1403.5,1567.6 1404.0,1568.3 1404.5,1568.2 1405.0,1567.2 1405.5,1567.8 1406.0,1568.7 1406.5,1569.5 1407.0,1570.7 1407.5,1570.1 1408.0,1570.1 1408.5,1570.6 1409.0,1571.8 1409.5,1571.3 1410.0,1572.7 1410.5,1571.0 1411.0,1572.7 1411.5,1572.7 1412.0,1573.6 1412.5,1574.2 1413.0,1573.6 1413.5,1574.2 1414.0,1574.8 1414.5,1575.4 1415.0,1575.0 1415.5,1574.9 1416.0,1574.5 1416.5,1577.2 1417.0,1576.9 1417.5,1576.9 1418.0,1576.2 1418.5,1577.6 1419.0,1577.4 1419.5,1578.7 1420.0,1578.9 1420.5,1578.6 1421.0,1579.1 1421.5,1578.2 1422.0,1578.4 1422.5,1578.4 1423.0,1578.0 1423.5,1578.7 1424.0,1578.9 1424.5,1579.9 1425.0,1577.5 1425.5,1578.2 1426.0,1578.3 1426.5,1578.7 1427.0,1579.4 1427.5,1579.7 1428.0,1579.7 1428.5,1579.4 1429.0,1579.8 1429.5,1580.0 1430.0,1578.7 1430.5,1579.2 1431.0,1578.8 1431.5,1578.7 1432.0,1579.5 1432.5,1579.8 1433.0,1580.0 1433.5,1579.5 1434.0,1579.7 1434.5,1579.4 1435.0,1580.0 1435.5,1580.5 1436.0,1581.3 1436.5,1581.4 1437.0,1580.2 1437.5,1579.9 1438.0,1579.5 1438.5,1580.1 1439.0,1581.3 1439.5,1581.1 1440.0,1579.2 1440.5,1579.1 1441.0,1578.8 1441.5,1579.3 1442.0,1578.6 1442.5,1577.7 1443.0,1577.4 1443.5,1574.9 1444.0,1573.1 1444.5,1573.3 1445.0,1571.8 1445.5,1570.1 1446.0,1568.5 1446.5,1568.3 1447.0,1567.7 1447.5,1568.9 1448.0,1569.4 1448.5,1570.2 1449.0,1569.8 1449.5,1569.3 1450.0,1569.1 1450.5,1570.6 1451.0,1569.0 1451.5,1569.5 1452.0,1569.6 1452.5,1570.1 1453.0,1569.7 1453.5,1570.1 1454.0,1570.6 1454.5,1570.3 1455.0,1570.2 1455.5,1570.4 1456.0,1570.2 1456.5,1570.8 1457.0,1571.1 1457.5,1571.7 1458.0,1572.8 1458.5,1573.5 1459.0,1572.8 1459.5,1573.4 1460.0,1573.6 1460.5,1574.1 1461.0,1574.0 1461.5,1574.2 1462.0,1573.9 1462.5,1573.7 1463.0,1574.6 1463.5,1575.3 1464.0,1575.2 1464.5,1575.0 1465.0,1574.8 1465.5,1574.2 1466.0,1573.2 1466.5,1574.2 1467.0,1574.3 1467.5,1573.8 1468.0,1573.4 1468.5,1574.5 1469.0,1573.0 1469.5,1574.5 1470.0,1574.4 1470.5,1575.3 1471.0,1573.8 1471.5,1573.5 1472.0,1573.1 1472.5,1573.2 1473.0,1573.0 1473.5,1572.5 1474.0,1573.4 1474.5,1572.6 1475.0,1572.3 1475.5,1572.8 1476.0,1572.3 1476.5,1572.1 1477.0,1572.5 1477.5,1572.2 1478.0,1571.5 1478.5,1571.8 1479.0,1571.9 1479.5,1573.1 1480.0,1571.8 1480.5,1572.6 1481.0,1571.8 1481.5,1571.8 1482.0,1571.9 1482.5,1572.5 1483.0,1573.2 1483.5,1574.3 1484.0,1573.5 1484.5,1574.6 1485.0,1575.1 1485.5,1575.4 1486.0,1574.8 1486.5,1575.8 1487.0,1575.8 1487.5,1576.3 1488.0,1576.3 1488.5,1576.9 1489.0,1577.5 1489.5,1577.7 1490.0,1577.1 1490.5,1577.6 1491.0,1578.1 1491.5,1576.9 1492.0,1577.9 1492.5,1576.6 1493.0,1577.3 1493.5,1577.6 1494.0,1578.3 1494.5,1577.9 1495.0,1577.3 1495.5,1576.9 1496.0,1576.5 1496.5,1577.5 1497.0,1577.4 1497.5,1577.1 1498.0,1577.7 1498.5,1577.2 1499.0,1577.2 1499.5,1577.2 1500.0,1578.5 1500.5,1578.9 1501.0,1578.1 1501.5,1576.9 1502.0,1577.6 1502.5,1577.7 1503.0,1578.0 1503.5,1578.2 1504.0,1577.8 1504.5,1578.3 1505.0,1578.5 1505.5,1578.2 1506.0,1577.4 1506.5,1576.2 1507.0,1575.5 1507.5,1573.1 1508.0,1571.7 1508.5,1569.8 1509.0,1568.0 1509.5,1567.9 1510.0,1567.2 1510.5,1566.4 1511.0,1566.2 1511.5,1564.4 1512.0,1564.4 1512.5,1564.7 1513.0,1565.4 1513.5,1565.0 1514.0,1566.5 1514.5,1567.4 1515.0,1569.0 1515.5,1570.0 1516.0,1570.6 1516.5,1572.5 1517.0,1572.6 1517.5,1573.1 1518.0,1573.9 1518.5,1574.4 1519.0,1575.6 1519.5,1575.3 1520.0,1576.5 1520.5,1577.6 1521.0,1578.7 1521.5,1578.7 1522.0,1579.9 1522.5,1579.5 1523.0,1579.8 1523.5,1579.1 1524.0,1579.7 1524.5,1580.0 1525.0,1581.6 1525.5,1581.7 1526.0,1580.8 1526.5,1581.3 1527.0,1581.5 1527.5,1581.2 1528.0,1581.2 1528.5,1581.0 1529.0,1580.8 1529.5,1580.0 1530.0,1580.7 1530.5,1581.7 1531.0,1582.2 1531.5,1581.4 1532.0,1580.8 1532.5,1580.9 1533.0,1581.6 1533.5,1581.5 1534.0,1580.9 1534.5,1581.3 1535.0,1581.1 1535.5,1581.4 1536.0,1581.0 1536.5,1580.2 1537.0,1580.7 1537.5,1581.4 1538.0,1580.5 1538.5,1580.8 1539.0,1581.4 1539.5,1580.9 1540.0,1580.6 1540.5,1582.0 1541.0,1581.8 1541.5,1581.9 1542.0,1580.7 1542.5,1581.7 1543.0,1580.2 1543.5,1580.2 1544.0,1581.0 1544.5,1581.6 1545.0,1580.5 1545.5,1580.2 1546.0,1580.5 1546.5,1579.4 1547.0,1580.4 1547.5,1580.8 1548.0,1580.3 1548.5,1580.6 1549.0,1580.9 1549.5,1580.7 1550.0,1580.7 1550.5,1581.3 1551.0,1580.3 1551.5,1580.2 1552.0,1579.8 1552.5,1579.6 1553.0,1575.8 1553.5,1571.7 1554.0,1566.9 1554.5,1562.9 1555.0,1561.5 1555.5,1559.9 1556.0,1559.6 1556.5,1558.6 1557.0,1558.2 1557.5,1556.8 1558.0,1556.7 1558.5,1556.4 1559.0,1555.4 1559.5,1555.5 1560.0,1555.5 1560.5,1555.8 1561.0,1557.1 1561.5,1556.8 1562.0,1556.5 1562.5,1556.9 1563.0,1558.2 1563.5,1559.1 1564.0,1560.3 1564.5,1561.4 1565.0,1562.9 1565.5,1562.9 1566.0,1563.1 1566.5,1562.5 1567.0,1562.9 1567.5,1563.6 1568.0,1563.8 1568.5,1561.9 1569.0,1562.7 1569.5,1563.4 1570.0,1563.1 1570.5,1561.6 1571.0,1561.5 1571.5,1561.9 1572.0,1561.9 1572.5,1561.0 1573.0,1560.4 1573.5,1561.1 1574.0,1559.9 1574.5,1560.9 1575.0,1560.2 1575.5,1559.9 1576.0,1558.2 1576.5,1557.1 1577.0,1556.4 1577.5,1553.8 1578.0,1553.5 1578.5,1550.2 1579.0,1547.7 1579.5,1546.2 1580.0,1544.7 1580.5,1543.3 1581.0,1541.2 1581.5,1539.8 1582.0,1538.4 1582.5,1536.9 1583.0,1534.3 1583.5,1534.5 1584.0,1533.5 1584.5,1532.2 1585.0,1530.5 1585.5,1529.7 1586.0,1528.5 1586.5,1527.4 1587.0,1527.0 1587.5,1524.7 1588.0,1524.4 1588.5,1523.1 1589.0,1522.6 1589.5,1523.1 1590.0,1521.5 1590.5,1521.2 1591.0,1520.5 1591.5,1520.8 1592.0,1519.6 1592.5,1518.4 1593.0,1519.1 1593.5,1518.6 1594.0,1518.4 1594.5,1519.1 1595.0,1518.2 1595.5,1518.2 1596.0,1518.4 1596.5,1518.7 1597.0,1518.3 1597.5,1519.0 1598.0,1520.0 1598.5,1518.9 1599.0,1519.7 1599.5,1517.8 1600.0,1519.0 1600.5,1518.6 1601.0,1518.8 1601.5,1518.8 1602.0,1518.9 1602.5,1518.8 1603.0,1519.5 1603.5,1521.1 1604.0,1521.9 1604.5,1521.7 1605.0,1521.9 1605.5,1522.5 1606.0,1522.9 1606.5,1525.5 1607.0,1526.4 1607.5,1527.3 1608.0,1528.3 1608.5,1529.7 1609.0,1532.9 1609.5,1535.3 1610.0,1536.7 1610.5,1539.7 1611.0,1541.2 1611.5,1544.0 1612.0,1545.4 1612.5,1547.2 1613.0,1549.3 1613.5,1550.5 1614.0,1551.6 1614.5,1550.9 1615.0,1551.8 1615.5,1551.9 1616.0,1551.0 1616.5,1550.6 1617.0,1549.5 1617.5,1549.0 1618.0,1547.8 1618.5,1547.7 1619.0,1547.3 1619.5,1547.4 1620.0,1546.8 1620.5,1546.0 1621.0,1544.5 1621.5,1543.5 1622.0,1542.6 1622.5,1542.2 1623.0,1540.3 1623.5,1540.7 1624.0,1539.2 1624.5,1538.8 1625.0,1538.7 1625.5,1537.9 1626.0,1538.4 1626.5,1537.2 1627.0,1537.3 1627.5,1536.7 1628.0,1535.2 1628.5,1534.8 1629.0,1535.0 1629.5,1533.9 1630.0,1533.6 1630.5,1533.0 1631.0,1533.1 1631.5,1532.8 1632.0,1532.8 1632.5,1533.3 1633.0,1533.7 1633.5,1533.1 1634.0,1532.8 1634.5,1533.1 1635.0,1532.6 1635.5,1532.1 1636.0,1533.4 1636.5,1532.9 1637.0,1534.1 1637.5,1533.8 1638.0,1535.7 1638.5,1535.1 1639.0,1536.4 1639.5,1537.8 1640.0,1537.8 1640.5,1540.2 1641.0,1540.8 1641.5,1541.5 1642.0,1544.3 1642.5,1546.3 1643.0,1547.4 1643.5,1547.3 1644.0,1549.3 1644.5,1550.7 1645.0,1551.9 1645.5,1553.1 1646.0,1553.4 1646.5,1554.9 1647.0,1557.5 1647.5,1559.0 1648.0,1559.2 1648.5,1559.6 1649.0,1561.1 1649.5,1562.6 1650.0,1563.6 1650.5,1563.5 1651.0,1564.8 1651.5,1565.9 1652.0,1567.7 1652.5,1568.9 1653.0,1569.5 1653.5,1570.8 1654.0,1570.9 1654.5,1572.5 1655.0,1572.5 1655.5,1573.4 1656.0,1574.4 1656.5,1574.0 1657.0,1574.3 1657.5,1574.2 1658.0,1575.5 1658.5,1576.2 1659.0,1576.6 1659.5,1577.5 1660.0,1576.6 1660.5,1577.6 1661.0,1578.2 1661.5,1578.3 1662.0,1579.0 1662.5,1579.7 1663.0,1578.7 1663.5,1577.9 1664.0,1577.6 1664.5,1577.7 1665.0,1577.9 1665.5,1576.9 1666.0,1577.5 1666.5,1576.3 1667.0,1576.8 1667.5,1576.6 1668.0,1576.4 1668.5,1577.2 1669.0,1576.0 1669.5,1575.5 1670.0,1575.5 1670.5,1575.6 1671.0,1574.3 1671.5,1574.6 1672.0,1574.0 1672.5,1574.5 1673.0,1575.1 1673.5,1574.6 1674.0,1574.3 1674.5,1574.5 1675.0,1573.0 1675.5,1574.9 1676.0,1575.8 1676.5,1576.3 1677.0,1576.5 1677.5,1576.8 1678.0,1577.6 1678.5,1579.0 1679.0,1579.1 1679.5,1580.2 1680.0,1578.6 1680.5,1579.2 1681.0,1579.9 1681.5,1579.9 1682.0,1579.0 1682.5,1579.2 1683.0,1580.4 1683.5,1579.4 1684.0,1579.2 1684.5,1579.0 1685.0,1579.3 1685.5,1580.1 1686.0,1580.4 1686.5,1579.0 1687.0,1580.4 1687.5,1579.8 1688.0,1579.6 1688.5,1580.8 1689.0,1580.3 1689.5,1579.4 1690.0,1579.4 1690.5,1579.3 1691.0,1579.2 1691.5,1579.5 1692.0,1580.3 1692.5,1580.3 1693.0,1579.3 1693.5,1581.3 1694.0,1580.0 1694.5,1580.1 1695.0,1580.0 1695.5,1580.5 1696.0,1580.0 1696.5,1580.3 1697.0,1581.3 1697.5,1580.6 1698.0,1579.6 1698.5,1580.0 1699.0,1579.6 1699.5,1579.6 1700.0,1580.0 1700.5,1580.2 1701.0,1579.9 1701.5,1580.5 1702.0,1580.1 1702.5,1579.3 1703.0,1580.2 1703.5,1579.9 1704.0,1580.6 1704.5,1579.9 1705.0,1580.3 1705.5,1580.3 1706.0,1578.6 1706.5,1578.6 1707.0,1578.8 1707.5,1580.3 1708.0,1579.0 1708.5,1580.1 1709.0,1580.7 1709.5,1580.6 1710.0,1580.6 1710.5,1579.8 1711.0,1579.5 1711.5,1579.1 1712.0,1578.6 1712.5,1578.1 1713.0,1576.8 1713.5,1575.4 1714.0,1574.4 1714.5,1574.0 1715.0,1572.1 1715.5,1571.0 1716.0,1570.7 1716.5,1570.0 1717.0,1569.7 1717.5,1568.0 1718.0,1568.4 1718.5,1568.5 1719.0,1569.0 1719.5,1567.4 1720.0,1567.6 1720.5,1568.1 1721.0,1568.1 1721.5,1568.4 1722.0,1568.3 1722.5,1566.8 1723.0,1567.0 1723.5,1566.3 1724.0,1565.5 1724.5,1566.2 1725.0,1564.7 1725.5,1563.3 1726.0,1562.2 1726.5,1560.6 1727.0,1560.1 1727.5,1558.6 1728.0,1557.6 1728.5,1555.8 1729.0,1553.7 1729.5,1553.1 1730.0,1551.3 1730.5,1550.3 1731.0,1549.5 1731.5,1548.7 1732.0,1548.6 1732.5,1547.1 1733.0,1546.7 1733.5,1546.0 1734.0,1544.9 1734.5,1544.6 1735.0,1545.1 1735.5,1545.8 1736.0,1546.3 1736.5,1546.8 1737.0,1547.1 1737.5,1547.3 1738.0,1548.2 1738.5,1548.2 1739.0,1548.8 1739.5,1550.5 1740.0,1551.2 1740.5,1552.7 1741.0,1554.0 1741.5,1555.5 1742.0,1557.3 1742.5,1558.5 1743.0,1560.0 1743.5,1560.8 1744.0,1562.9 1744.5,1563.8 1745.0,1565.5 1745.5,1564.7 1746.0,1565.8 1746.5,1567.0 1747.0,1566.1 1747.5,1567.1 1748.0,1568.0 1748.5,1568.5 1749.0,1567.9 1749.5,1568.8 1750.0,1569.2 1750.5,1568.9 1751.0,1569.8 1751.5,1569.9 1752.0,1570.0 1752.5,1569.9 1753.0,1570.5 1753.5,1570.6 1754.0,1571.3 1754.5,1571.3 1755.0,1570.7 1755.5,1570.8 1756.0,1571.6 1756.5,1571.2 1757.0,1571.6 1757.5,1572.0 1758.0,1571.8 1758.5,1570.6 1759.0,1571.6 1759.5,1572.2 1760.0,1572.6 1760.5,1572.3 1761.0,1573.5 1761.5,1573.4 1762.0,1573.3 1762.5,1573.4 1763.0,1574.3 1763.5,1574.0 1764.0,1574.2 1764.5,1576.2 1765.0,1576.8 1765.5,1577.1 1766.0,1577.5 1766.5,1577.4 1767.0,1576.2 1767.5,1577.4 1768.0,1578.0 1768.5,1577.9 1769.0,1576.5 1769.5,1577.9 1770.0,1578.6 1770.5,1577.9 1771.0,1578.0 1771.5,1578.5 1772.0,1578.2 1772.5,1578.9 1773.0,1578.6 1773.5,1578.9 1774.0,1578.7 1774.5,1577.8 1775.0,1577.7 1775.5,1580.2 1776.0,1579.5 1776.5,1579.9 1777.0,1579.9 1777.5,1580.3 1778.0,1579.8 1778.5,1579.0 1779.0,1579.0 1779.5,1577.9 1780.0,1578.4 1780.5,1579.3 1781.0,1577.9 1781.5,1578.6 1782.0,1579.3 1782.5,1579.8 1783.0,1578.7 1783.5,1578.4 1784.0,1577.5 1784.5,1577.7 1785.0,1578.6 1785.5,1579.8 1786.0,1578.4 1786.5,1579.2 1787.0,1579.0 1787.5,1578.3 1788.0,1579.5 1788.5,1577.2 1789.0,1577.7 1789.5,1578.0 1790.0,1579.1 1790.5,1579.3 1791.0,1579.6 1791.5,1578.5 1792.0,1578.4 1792.5,1578.5 1793.0,1577.9 1793.5,1577.4 1794.0,1576.6 1794.5,1575.9 1795.0,1574.9 1795.5,1576.1 1796.0,1574.9 1796.5,1573.2 1797.0,1573.7 1797.5,1573.4 1798.0,1573.2 1798.5,1573.9 1799.0,1572.9 1799.5,1572.3 1800.0,1571.7 1800.5,1571.8 1801.0,1571.7 1801.5,1572.1 1802.0,1574.1 1802.5,1573.6 1803.0,1572.9 1803.5,1574.5 1804.0,1574.9 1804.5,1575.3 1805.0,1575.8 1805.5,1576.5 1806.0,1577.0 1806.5,1578.0 1807.0,1578.5 1807.5,1579.3 1808.0,1578.8 1808.5,1579.2 1809.0,1579.2 1809.5,1580.4 1810.0,1581.0 1810.5,1580.5 1811.0,1581.0 1811.5,1582.4 1812.0,1582.1 1812.5,1580.5 1813.0,1580.5 1813.5,1580.8 1814.0,1580.5 1814.5,1580.5 1815.0,1580.9 1815.5,1580.4 1816.0,1579.3 1816.5,1579.8 1817.0,1579.4 1817.5,1579.3 1818.0,1578.7 1818.5,1577.8 1819.0,1577.4 1819.5,1577.7 1820.0,1577.2 1820.5,1575.9 1821.0,1577.5 1821.5,1576.7 1822.0,1576.5 1822.5,1577.0 1823.0,1575.4 1823.5,1576.8 1824.0,1576.0 1824.5,1576.5 1825.0,1575.9 1825.5,1576.0 1826.0,1575.9 1826.5,1575.8 1827.0,1574.6 1827.5,1574.3 1828.0,1575.0 1828.5,1576.1 1829.0,1575.4 1829.5,1575.8 1830.0,1575.8 1830.5,1575.9 1831.0,1576.4 1831.5,1575.1 1832.0,1575.7 1832.5,1575.7 1833.0,1575.7 1833.5,1575.4 1834.0,1575.4 1834.5,1575.3 1835.0,1575.3 1835.5,1577.5 1836.0,1577.9 1836.5,1577.2 1837.0,1577.4 1837.5,1576.6 1838.0,1575.2 1838.5,1575.3 1839.0,1576.6 1839.5,1578.0 1840.0,1577.7 1840.5,1577.1 1841.0,1577.4 1841.5,1577.1 1842.0,1576.9 1842.5,1577.5 1843.0,1577.7 1843.5,1577.6 1844.0,1577.6 1844.5,1577.6 1845.0,1578.4 1845.5,1579.4 1846.0,1578.9 1846.5,1580.2 1847.0,1578.5 1847.5,1578.9 1848.0,1578.3 1848.5,1578.6 1849.0,1578.9 1849.5,1579.3 1850.0,1579.7 1850.5,1578.8 1851.0,1577.9 1851.5,1578.0 1852.0,1578.1 1852.5,1577.3 1853.0,1577.7 1853.5,1578.0 1854.0,1576.1 1854.5,1576.0 1855.0,1576.1 1855.5,1574.1 1856.0,1574.2 1856.5,1573.7 1857.0,1572.5 1857.5,1573.3 1858.0,1572.7 1858.5,1571.9 1859.0,1571.8 1859.5,1571.7 1860.0,1571.6 1860.5,1571.3 1861.0,1570.9 1861.5,1569.7 1862.0,1569.5 1862.5,1569.5 1863.0,1567.7 1863.5,1569.6 1864.0,1568.8 1864.5,1567.9 1865.0,1567.0 1865.5,1567.7 1866.0,1567.7 1866.5,1567.2 1867.0,1567.0 1867.5,1566.6 1868.0,1566.4 1868.5,1566.7 1869.0,1566.4 1869.5,1567.0 1870.0,1566.8 1870.5,1566.9 1871.0,1567.1 1871.5,1567.7 1872.0,1567.5 1872.5,1567.3 1873.0,1567.0 1873.5,1566.5 1874.0,1566.6 1874.5,1567.3 1875.0,1567.4 1875.5,1567.1 1876.0,1566.5 1876.5,1566.1 1877.0,1567.2 1877.5,1568.0 1878.0,1568.1 1878.5,1567.1 1879.0,1567.5 1879.5,1568.0 1880.0,1567.6 1880.5,1568.2 1881.0,1568.2 1881.5,1567.9 1882.0,1567.7 1882.5,1568.9 1883.0,1569.1 1883.5,1568.6 1884.0,1568.4 1884.5,1569.5 1885.0,1569.9 1885.5,1569.6 1886.0,1570.7 1886.5,1570.1 1887.0,1569.5 1887.5,1570.7 1888.0,1570.5 1888.5,1570.8 1889.0,1571.0 1889.5,1570.6 1890.0,1570.5 1890.5,1571.3 1891.0,1572.8 1891.5,1572.2 1892.0,1573.6 1892.5,1573.7 1893.0,1573.3 1893.5,1574.2 1894.0,1574.9 1894.5,1574.7 1895.0,1574.1 1895.5,1575.6 1896.0,1575.5 1896.5,1576.7 1897.0,1575.9 1897.5,1576.9 1898.0,1577.1 1898.5,1576.9 1899.0,1577.7 1899.5,1578.4 1900.0,1578.4 1900.5,1578.0 1901.0,1578.7 1901.5,1577.9 1902.0,1578.9 1902.5,1579.2 1903.0,1580.1 1903.5,1579.9 1904.0,1579.6 1904.5,1579.3 1905.0,1579.1 1905.5,1578.2 1906.0,1579.5 1906.5,1579.4 1907.0,1578.9 1907.5,1578.2 1908.0,1579.4 1908.5,1579.3 1909.0,1578.3 1909.5,1578.9 1910.0,1579.9 1910.5,1579.1 1911.0,1579.0 1911.5,1578.5 1912.0,1578.2 1912.5,1579.0 1913.0,1580.5 1913.5,1579.3 1914.0,1578.7 1914.5,1579.0 1915.0,1578.4 1915.5,1578.8 1916.0,1578.9 1916.5,1577.9 1917.0,1577.4 1917.5,1577.8 1918.0,1578.5 1918.5,1578.4 1919.0,1578.9 1919.5,1577.6 1920.0,1578.1 1920.5,1577.6 1921.0,1577.9 1921.5,1578.1 1922.0,1577.4 1922.5,1577.5 1923.0,1577.0 1923.5,1577.6 1924.0,1577.1 1924.5,1577.2 1925.0,1577.5 1925.5,1577.2 1926.0,1578.0 1926.5,1577.3 1927.0,1577.9 1927.5,1577.7 1928.0,1576.9 1928.5,1577.0 1929.0,1576.6 1929.5,1576.8 1930.0,1576.8 1930.5,1578.0 1931.0,1577.2 1931.5,1578.0 1932.0,1577.6 1932.5,1576.4 1933.0,1575.3 1933.5,1576.6 1934.0,1575.5 1934.5,1576.6 1935.0,1577.2 1935.5,1577.1 1936.0,1576.6 1936.5,1576.4 1937.0,1576.6 1937.5,1576.3 1938.0,1576.0 1938.5,1576.0 1939.0,1576.8 1939.5,1576.1 1940.0,1576.4 1940.5,1575.6 1941.0,1575.5 1941.5,1575.0 1942.0,1575.5 1942.5,1576.2 1943.0,1576.2 1943.5,1575.7 1944.0,1576.2 1944.5,1575.8 1945.0,1576.0 1945.5,1576.0 1946.0,1576.2 1946.5,1574.4 1947.0,1574.4 1947.5,1575.6 1948.0,1575.6 1948.5,1576.9 1949.0,1576.0 1949.5,1575.4 1950.0,1576.4 1950.5,1576.2 1951.0,1576.9 1951.5,1576.4 1952.0,1575.7 1952.5,1576.0 1953.0,1575.2 1953.5,1575.1 1954.0,1575.0 1954.5,1575.2 1955.0,1575.9 1955.5,1575.6 1956.0,1576.0 1956.5,1575.7 1957.0,1576.6 1957.5,1574.9 1958.0,1575.9 1958.5,1576.6 1959.0,1576.4 1959.5,1577.6 1960.0,1577.8 1960.5,1578.7 1961.0,1579.1 1961.5,1579.2 1962.0,1579.0 1962.5,1578.5 1963.0,1579.0 1963.5,1579.3 1964.0,1579.9 1964.5,1580.0 1965.0,1582.2 1965.5,1580.5 1966.0,1581.6 1966.5,1581.2 1967.0,1581.4 1967.5,1582.2 1968.0,1582.1 1968.5,1581.5 1969.0,1582.2 1969.5,1582.2 1970.0,1581.2 1970.5,1582.1 1971.0,1581.7 1971.5,1581.8 1972.0,1582.5 1972.5,1582.6 1973.0,1582.3 1973.5,1583.6 1974.0,1583.0 1974.5,1582.2 1975.0,1582.3 1975.5,1582.1 1976.0,1580.7 1976.5,1580.5 1977.0,1580.4 1977.5,1582.3 1978.0,1581.7 1978.5,1581.4 1979.0,1581.0 1979.5,1581.6 1980.0,1581.3 1980.5,1582.0 1981.0,1581.7 1981.5,1582.0 1982.0,1581.0 1982.5,1580.7 1983.0,1580.1 1983.5,1579.9 1984.0,1578.8 1984.5,1579.0 1985.0,1578.7 1985.5,1578.7 1986.0,1579.7 1986.5,1579.5 1987.0,1579.8 1987.5,1579.7 1988.0,1579.6 1988.5,1579.5 1989.0,1578.5 1989.5,1578.8 1990.0,1578.2 1990.5,1577.8 1991.0,1578.5 1991.5,1579.3 1992.0,1577.8 1992.5,1578.7 1993.0,1578.5 1993.5,1577.4 1994.0,1577.5 1994.5,1577.6 1995.0,1577.6 1995.5,1577.2 1996.0,1576.5 1996.5,1576.9 1997.0,1577.6 1997.5,1577.8 1998.0,1577.8 1998.5,1578.1 1999.0,1577.0 1999.5,1577.2 2000.0,1577.4 2000.5,1578.0 2001.0,1577.7 2001.5,1577.9 2002.0,1577.7 2002.5,1578.8 2003.0,1576.8 2003.5,1577.3 2004.0,1579.0 2004.5,1578.4 2005.0,1577.0 2005.5,1577.7 2006.0,1577.0 2006.5,1577.3 2007.0,1577.9 2007.5,1579.1 2008.0,1578.9 2008.5,1579.0 2009.0,1579.3 2009.5,1578.9 2010.0,1578.2 2010.5,1578.5 2011.0,1578.8 2011.5,1578.7 2012.0,1578.4 2012.5,1578.5 2013.0,1578.0 2013.5,1578.0 2014.0,1578.7 2014.5,1578.8 2015.0,1579.1 2015.5,1580.0 2016.0,1579.8 2016.5,1579.5 2017.0,1578.8 2017.5,1578.6 2018.0,1579.3 2018.5,1578.9 2019.0,1579.5 2019.5,1578.9 2020.0,1579.3 2020.5,1579.4 2021.0,1580.0 2021.5,1579.5 2022.0,1579.3 2022.5,1579.6 2023.0,1579.5 2023.5,1580.5 2024.0,1579.7 2024.5,1579.3 2025.0,1579.2 2025.5,1579.6 2026.0,1579.7 2026.5,1580.0 2027.0,1578.9 2027.5,1580.7 2028.0,1581.0 2028.5,1580.1 2029.0,1579.0 2029.5,1579.4 2030.0,1579.6 2030.5,1578.2 2031.0,1579.0 2031.5,1578.4 2032.0,1579.3 2032.5,1580.1 2033.0,1580.3 2033.5,1578.9 2034.0,1580.0 2034.5,1580.1 2035.0,1579.5 2035.5,1579.7 2036.0,1580.4 2036.5,1579.6 2037.0,1579.4 2037.5,1579.0 2038.0,1579.9 2038.5,1578.3 2039.0,1579.7 2039.5,1578.9 2040.0,1579.6 2040.5,1578.5 2041.0,1578.4 2041.5,1578.5 2042.0,1579.4 2042.5,1578.4 2043.0,1579.2 2043.5,1578.8 2044.0,1579.7 2044.5,1579.2 2045.0,1579.4 2045.5,1579.1 2046.0,1580.2 2046.5,1579.3 2047.0,1579.1 2047.5,1580.2 2048.0,1579.6 2048.5,1579.6 2049.0,1578.8 2049.5,1579.0 2050.0,1577.7 2050.5,1578.5 2051.0,1578.4 2051.5,1577.8 2052.0,1577.6 2052.5,1579.0 2053.0,1579.1 2053.5,1578.0 2054.0,1579.5 2054.5,1578.6 2055.0,1578.4 2055.5,1578.6 2056.0,1577.9 2056.5,1577.2 2057.0,1577.4 2057.5,1578.6 2058.0,1578.8 2058.5,1577.4 2059.0,1578.4 2059.5,1578.0 2060.0,1578.0 2060.5,1577.7 2061.0,1577.6 2061.5,1576.7 2062.0,1575.4 2062.5,1573.6 2063.0,1571.4 2063.5,1569.4 2064.0,1566.2 2064.5,1565.7 2065.0,1563.4 2065.5,1561.5 2066.0,1560.7 2066.5,1559.5 2067.0,1558.3 2067.5,1557.4 2068.0,1557.3 2068.5,1557.1 2069.0,1559.0 2069.5,1560.0 2070.0,1561.2 2070.5,1561.3 2071.0,1561.5 2071.5,1562.2 2072.0,1563.0 2072.5,1563.0 2073.0,1563.9 2073.5,1565.7 2074.0,1564.6 2074.5,1564.8 2075.0,1565.6 2075.5,1567.3 2076.0,1568.8 2076.5,1569.0 2077.0,1570.2 2077.5,1570.9 2078.0,1571.9 2078.5,1572.3 2079.0,1573.3 2079.5,1574.2 2080.0,1575.7 2080.5,1577.3 2081.0,1575.9 2081.5,1576.9 2082.0,1577.1 2082.5,1577.8 2083.0,1578.2 2083.5,1578.3 2084.0,1578.4 2084.5,1577.5 2085.0,1576.8 2085.5,1578.5 2086.0,1579.0 2086.5,1578.0 2087.0,1579.0 2087.5,1579.0 2088.0,1577.3 2088.5,1578.6 2089.0,1578.0 2089.5,1579.1 2090.0,1578.5 2090.5,1578.3 2091.0,1577.7 2091.5,1578.3 2092.0,1579.3 2092.5,1578.7 2093.0,1577.8 2093.5,1579.7 2094.0,1580.4 2094.5,1579.9 2095.0,1579.1 2095.5,1578.3 2096.0,1577.8 2096.5,1578.8 2097.0,1579.7 2097.5,1578.6 2098.0,1578.8 2098.5,1578.7 2099.0,1578.7 2099.5,1579.1 2100.0,1580.2 2100.5,1579.0 2101.0,1579.4 2101.5,1579.7 2102.0,1579.0 2102.5,1578.8 2103.0,1578.0 2103.5,1579.0 2104.0,1578.5 2104.5,1578.2 2105.0,1578.4 2105.5,1578.0 2106.0,1577.7 2106.5,1577.9 2107.0,1579.0 2107.5,1578.4 2108.0,1578.6 2108.5,1577.4 2109.0,1576.7 2109.5,1578.5 2110.0,1577.9 2110.5,1576.9 2111.0,1577.3 2111.5,1577.8 2112.0,1576.6" fill="none" stroke="#0000ff" stroke-width="7" stroke-linejoin="round" stroke-linecap="round"/>
<text transform="translate(576.49 132.54) scale(1.0445 1)" style="font-family:'Liberation Sans', sans-serif;font-size:57.42px" fill="#000">●</text>
<text transform="translate(631.34 136.50) scale(0.9706 1)" style="font-family:'Liberation Sans', sans-serif;font-size:73.26px" fill="#000">Zn</text>
<text transform="translate(577.98 237.49) scale(1.0972 1)" style="font-family:'Liberation Serif', serif;font-size:62.79px" fill="#000">o</text>
<text transform="translate(636.36 237.00) scale(1.0183 1)" style="font-family:'Liberation Sans', sans-serif;font-size:69.55px" fill="#000">Al</text>
<text transform="translate(1330.39 136.70) scale(1.1469 1)" style="font-family:'DejaVu Sans', sans-serif;font-size:54.91px" fill="#000">♣</text>
<text x="1407.20" y="137.30" style="font-family:'Liberation Sans', sans-serif;font-size:82px">Zn</text>
<text x="1501.51" y="169.30" style="font-family:'Liberation Sans', sans-serif;font-size:47px">6</text>
<text x="1530.24" y="137.30" style="font-family:'Liberation Sans', sans-serif;font-size:82px">Al</text>
<text x="1599.24" y="169.30" style="font-family:'Liberation Sans', sans-serif;font-size:47px">2</text>
<text x="1626.72" y="137.30" style="font-family:'Liberation Sans', sans-serif;font-size:82px">(</text>
<text x="1655.62" y="137.30" style="font-family:'Liberation Sans', sans-serif;font-size:82px">OH</text>
<text x="1779.72" y="137.30" style="font-family:'Liberation Sans', sans-serif;font-size:82px">)</text>
<text x="1804.72" y="169.30" style="font-family:'Liberation Sans', sans-serif;font-size:47px">16</text>
<text x="1857.34" y="137.30" style="font-family:'Liberation Sans', sans-serif;font-size:82px">CO</text>
<text x="1978.51" y="169.30" style="font-family:'Liberation Sans', sans-serif;font-size:47px">3</text>
<text transform="translate(2005.62 148.20) scale(1.0000 1)" style="font-family:'Liberation Sans', sans-serif;font-size:90.41px" fill="#000">•</text>
<text x="2038.85" y="137.30" style="font-family:'Liberation Serif', serif;font-size:74px">4H</text>
<text x="2127.12" y="170.50" style="font-family:'Liberation Serif', serif;font-size:45px">2</text>
<text x="2151.46" y="138.00" style="font-family:'Liberation Serif', serif;font-size:74px">O</text>
<text transform="translate(1332.35 264.60) scale(1.1006 1)" style="font-family:'DejaVu Sans', sans-serif;font-size:53.26px" fill="#000">♦</text>
<text x="1403.60" y="266.00" style="font-family:'Liberation Sans', sans-serif;font-size:82px">Zn</text>
<text x="1498.42" y="297.50" style="font-family:'Liberation Sans', sans-serif;font-size:47px">5</text>
<text x="1525.42" y="266.00" style="font-family:'Liberation Sans', sans-serif;font-size:82px">(</text>
<text x="1554.32" y="266.00" style="font-family:'Liberation Sans', sans-serif;font-size:82px">OH</text>
<text x="1682.02" y="266.00" style="font-family:'Liberation Sans', sans-serif;font-size:82px">)</text>
<text x="1702.16" y="297.50" style="font-family:'Liberation Sans', sans-serif;font-size:47px">8</text>
<text x="1727.74" y="266.00" style="font-family:'Liberation Sans', sans-serif;font-size:82px">Cl</text>
<text x="1805.14" y="297.50" style="font-family:'Liberation Sans', sans-serif;font-size:47px">2</text>
<text transform="translate(1831.91 279.52) scale(0.9524 1)" style="font-family:'Liberation Sans', sans-serif;font-size:100.74px" fill="#000">•</text>
<text x="1864.77" y="266.00" style="font-family:'Liberation Sans', sans-serif;font-size:82px">H</text>
<text x="1922.44" y="297.50" style="font-family:'Liberation Sans', sans-serif;font-size:47px">2</text>
<text x="1951.02" y="266.00" style="font-family:'Liberation Sans', sans-serif;font-size:82px">O</text>
<text transform="translate(1334.81 392.80) scale(0.9728 1)" style="font-family:'DejaVu Sans', sans-serif;font-size:55.46px" fill="#000">♥</text>
<text x="1403.90" y="394.60" style="font-family:'Liberation Sans', sans-serif;font-size:82px">Zn</text>
<text x="1498.62" y="425.00" style="font-family:'Liberation Sans', sans-serif;font-size:47px">5</text>
<text x="1524.12" y="394.60" style="font-family:'Liberation Sans', sans-serif;font-size:82px">(</text>
<text x="1552.04" y="394.60" style="font-family:'Liberation Sans', sans-serif;font-size:82px">CO</text>
<text x="1675.51" y="425.00" style="font-family:'Liberation Sans', sans-serif;font-size:47px">3</text>
<text x="1707.02" y="394.60" style="font-family:'Liberation Sans', sans-serif;font-size:82px">)</text>
<text x="1727.54" y="425.00" style="font-family:'Liberation Sans', sans-serif;font-size:47px">2</text>
<text x="1756.62" y="394.60" style="font-family:'Liberation Sans', sans-serif;font-size:82px">(</text>
<text x="1783.32" y="394.60" style="font-family:'Liberation Sans', sans-serif;font-size:82px">OH</text>
<text x="1909.42" y="394.60" style="font-family:'Liberation Sans', sans-serif;font-size:82px">)</text>
<text x="1929.81" y="425.00" style="font-family:'Liberation Sans', sans-serif;font-size:47px">6</text>
<text transform="translate(1329.06 520.20) scale(1.2548 1)" style="font-family:'DejaVu Sans', sans-serif;font-size:53.26px" fill="#000">♠</text>
<text x="1408.70" y="522.00" style="font-family:'Liberation Sans', sans-serif;font-size:82px">ZnO</text>
<text transform="translate(1328.97 620.04) scale(1.0020 1)" style="font-family:'Liberation Sans', 'NanumGothic', sans-serif;font-size:62.06px" fill="#000" stroke="#000" stroke-width="0.9">⊗</text>
<text x="1407.94" y="622.50" style="font-family:'Liberation Sans', sans-serif;font-size:82px">Al</text>
<text x="1477.44" y="654.00" style="font-family:'Liberation Sans', sans-serif;font-size:47px">2</text>
<text x="1504.62" y="622.50" style="font-family:'Liberation Sans', sans-serif;font-size:82px">O</text>
<text x="1567.21" y="654.00" style="font-family:'Liberation Sans', sans-serif;font-size:47px">3</text>
<text transform="translate(980.10 709.46) scale(1.0000 1)" style="font-family:'Liberation Sans', sans-serif;font-size:56.95px" fill="#000">●</text>
<text transform="translate(1038.22 539.95) scale(1.1951 1)" style="font-family:'Liberation Serif', serif;font-size:66.53px" fill="#000">o</text>
<text transform="translate(1052.40 701.96) scale(1.0000 1)" style="font-family:'Liberation Sans', sans-serif;font-size:56.95px" fill="#000">●</text>
<text transform="translate(1162.10 342.06) scale(1.0000 1)" style="font-family:'Liberation Sans', sans-serif;font-size:56.95px" fill="#000">●</text>
<text transform="translate(1198.02 660.55) scale(1.1951 1)" style="font-family:'Liberation Serif', serif;font-size:66.53px" fill="#000">o</text>
<text transform="translate(1440.70 744.26) scale(1.0000 1)" style="font-family:'Liberation Sans', sans-serif;font-size:56.95px" fill="#000">●</text>
<text transform="translate(1711.52 731.05) scale(1.1951 1)" style="font-family:'Liberation Serif', serif;font-size:66.53px" fill="#000">o</text>
<text transform="translate(1861.40 749.66) scale(1.0000 1)" style="font-family:'Liberation Sans', sans-serif;font-size:56.95px" fill="#000">●</text>
<text transform="translate(2047.12 748.95) scale(1.1951 1)" style="font-family:'Liberation Serif', serif;font-size:66.53px" fill="#000">o</text>
<text transform="translate(340.38 1034.90) scale(1.1308 1)" style="font-family:'DejaVu Sans', sans-serif;font-size:48.59px" fill="#000">♣</text>
<text transform="translate(337.69 1093.70) scale(1.1802 1)" style="font-family:'DejaVu Sans', sans-serif;font-size:48.45px" fill="#000">♦</text>
<text transform="translate(397.75 1548.90) scale(1.0129 1)" style="font-family:'DejaVu Sans', sans-serif;font-size:46.12px" fill="#000">♥</text>
<text transform="translate(476.08 1538.77) scale(1.0000 1)" style="font-family:'Liberation Sans', 'NanumGothic', sans-serif;font-size:54.73px" fill="#000" stroke="#000" stroke-width="0.9">⊗</text>
<text transform="translate(629.48 1403.50) scale(1.1340 1)" style="font-family:'DejaVu Sans', sans-serif;font-size:48.45px" fill="#000">♣</text>
<text transform="translate(773.35 1537.80) scale(0.9822 1)" style="font-family:'DejaVu Sans', sans-serif;font-size:45.30px" fill="#000">♥</text>
<text transform="translate(856.29 1513.40) scale(1.0499 1)" style="font-family:'DejaVu Sans', sans-serif;font-size:51.06px" fill="#000">♦</text>
<text transform="translate(853.51 1433.80) scale(1.1440 1)" style="font-family:'DejaVu Sans', sans-serif;font-size:48.18px" fill="#000">♠</text>
<text transform="translate(883.28 1387.10) scale(1.0482 1)" style="font-family:'Liberation Sans', 'NanumGothic', sans-serif;font-size:54.23px" fill="#000" stroke="#000" stroke-width="0.9">⊗</text>
<text transform="translate(892.15 1467.70) scale(0.9852 1)" style="font-family:'DejaVu Sans', sans-serif;font-size:45.16px" fill="#000">♥</text>
<text transform="translate(902.99 1438.00) scale(1.0819 1)" style="font-family:'DejaVu Sans', sans-serif;font-size:49.55px" fill="#000">♦</text>
<text transform="translate(928.88 1271.50) scale(1.0761 1)" style="font-family:'DejaVu Sans', sans-serif;font-size:51.06px" fill="#000">♣</text>
<text transform="translate(931.59 1335.10) scale(1.0225 1)" style="font-family:'DejaVu Sans', sans-serif;font-size:52.44px" fill="#000">♦</text>
<text transform="translate(975.09 1360.60) scale(1.0499 1)" style="font-family:'DejaVu Sans', sans-serif;font-size:51.06px" fill="#000">♦</text>
<text transform="translate(977.05 1411.50) scale(0.9822 1)" style="font-family:'DejaVu Sans', sans-serif;font-size:45.30px" fill="#000">♥</text>
<text transform="translate(977.61 1465.60) scale(1.1440 1)" style="font-family:'DejaVu Sans', sans-serif;font-size:48.18px" fill="#000">♠</text>
<text transform="translate(979.80 1509.76) scale(1.0000 1)" style="font-family:'Liberation Sans', sans-serif;font-size:56.95px" fill="#000">●</text>
<text transform="translate(1043.92 1363.13) scale(1.1589 1)" style="font-family:'Liberation Serif', serif;font-size:68.61px" fill="#000">o</text>
<text transform="translate(1156.80 1530.66) scale(1.0000 1)" style="font-family:'Liberation Sans', sans-serif;font-size:56.95px" fill="#000">●</text>
<text transform="translate(1192.62 1495.62) scale(1.1450 1)" style="font-family:'Liberation Serif', serif;font-size:69.44px" fill="#000">o</text>
<text transform="translate(1188.43 1430.37) scale(1.0469 1)" style="font-family:'Liberation Sans', 'NanumGothic', sans-serif;font-size:52.99px" fill="#000" stroke="#000" stroke-width="0.9">⊗</text>
<text transform="translate(1225.05 1526.70) scale(1.1116 1)" style="font-family:'DejaVu Sans', sans-serif;font-size:50.10px" fill="#000">♣</text>
<text transform="translate(1373.08 1535.90) scale(1.0340 1)" style="font-family:'DejaVu Sans', sans-serif;font-size:47.36px" fill="#000">♦</text>
<text transform="translate(1525.24 1540.50) scale(1.1503 1)" style="font-family:'DejaVu Sans', sans-serif;font-size:49.42px" fill="#000">♠</text>
<text transform="translate(1579.15 1433.30) scale(1.0819 1)" style="font-family:'DejaVu Sans', sans-serif;font-size:50.24px" fill="#000">♣</text>
<text transform="translate(1580.41 1496.30) scale(1.0603 1)" style="font-family:'DejaVu Sans', sans-serif;font-size:53.26px" fill="#000">♦</text>
<text transform="translate(1622.65 1442.70) scale(1.0616 1)" style="font-family:'DejaVu Sans', sans-serif;font-size:51.20px" fill="#000">♣</text>
<text transform="translate(1615.11 1514.40) scale(1.0209 1)" style="font-family:'DejaVu Sans', sans-serif;font-size:55.32px" fill="#000">♦</text>
<text transform="translate(1647.54 1555.60) scale(1.1314 1)" style="font-family:'DejaVu Sans', sans-serif;font-size:50.24px" fill="#000">♠</text>
<text transform="translate(1714.62 1522.41) scale(1.1314 1)" style="font-family:'Liberation Serif', serif;font-size:70.28px" fill="#000">o</text>
<text transform="translate(1864.40 1548.06) scale(1.0000 1)" style="font-family:'Liberation Sans', sans-serif;font-size:56.95px" fill="#000">●</text>
<text transform="translate(2047.62 1538.75) scale(1.1951 1)" style="font-family:'Liberation Serif', serif;font-size:66.53px" fill="#000">o</text>
</svg></body></html>
